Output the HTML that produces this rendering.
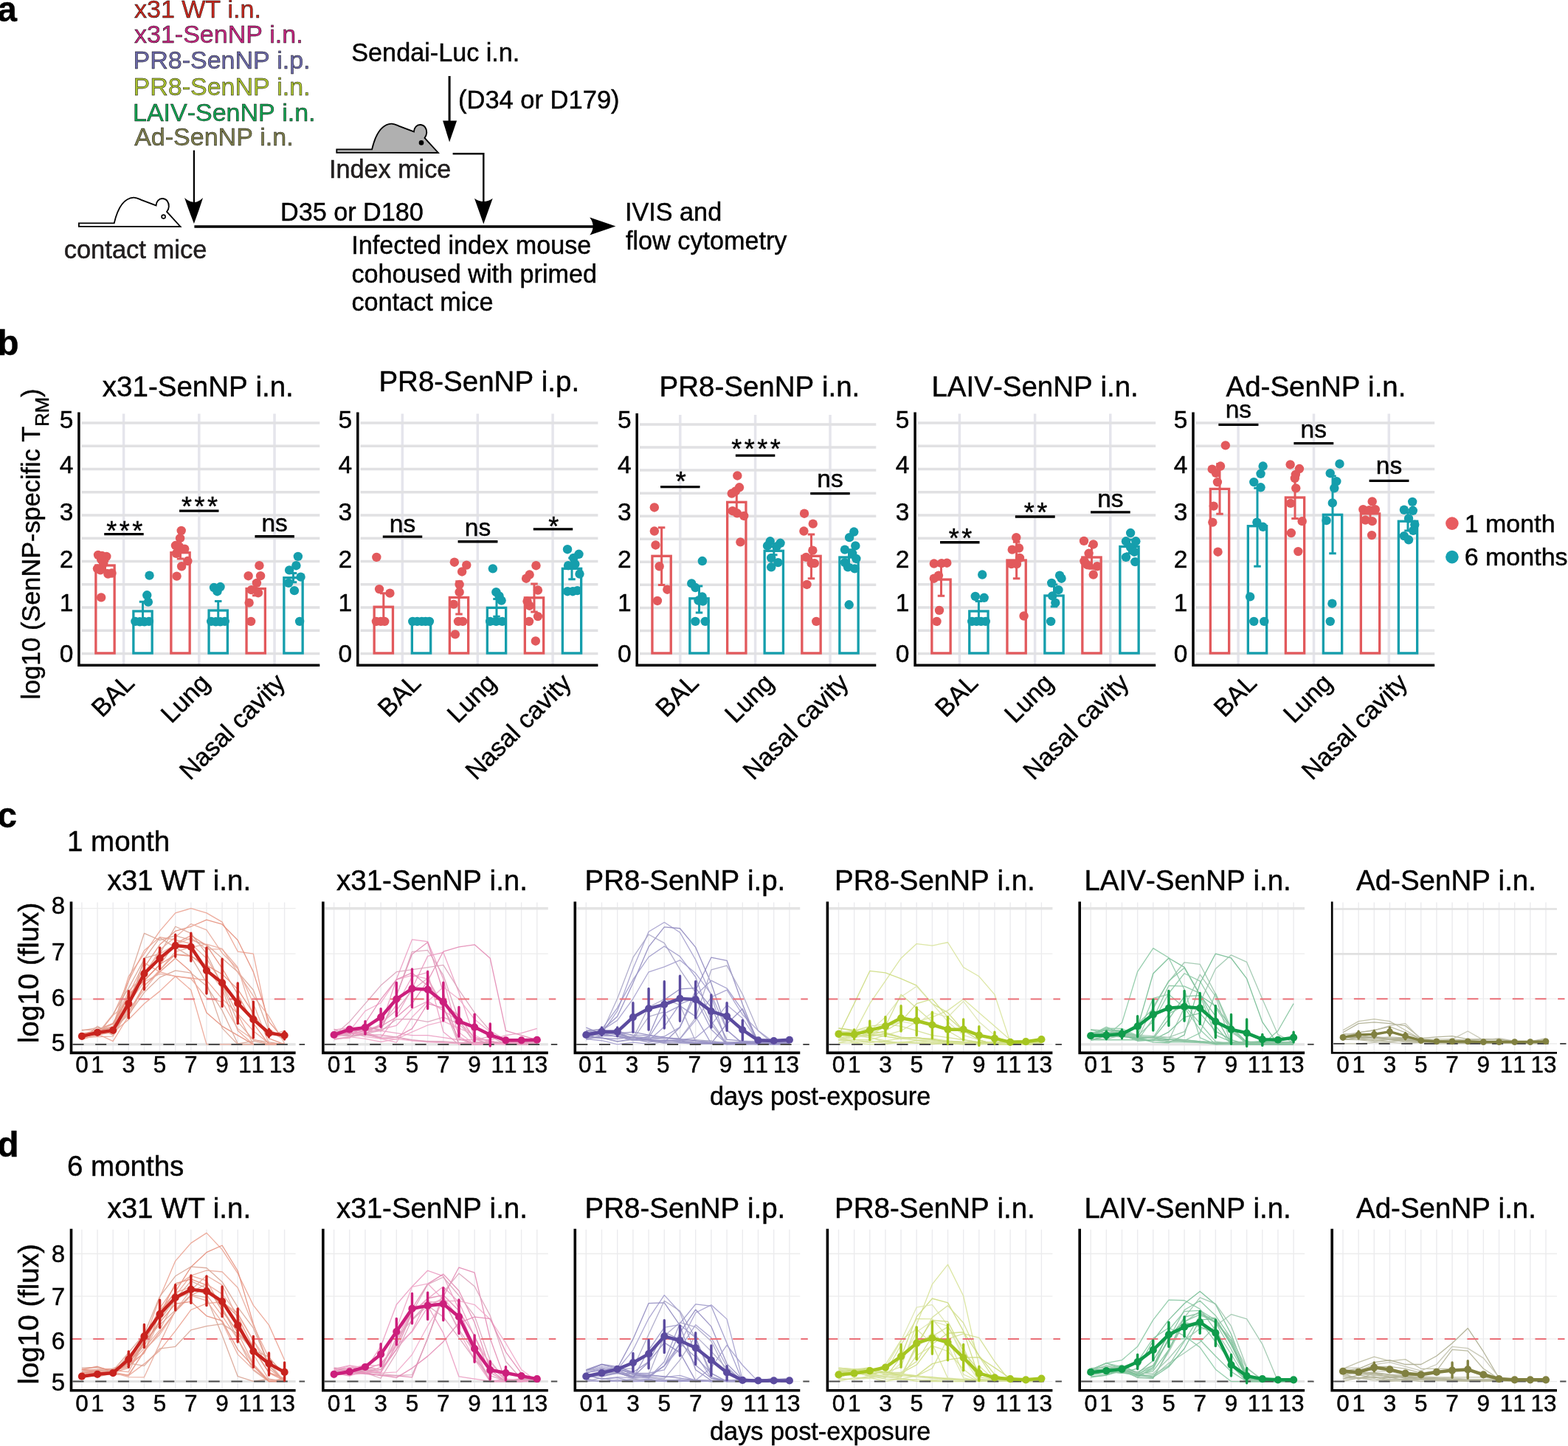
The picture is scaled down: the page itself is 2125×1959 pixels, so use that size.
<!DOCTYPE html>
<html lang="en"><head><meta charset="utf-8"><title>Figure: SenNP-specific TRM and Sendai-Luc transmission</title>
<style>html,body{margin:0;padding:0;background:#fff}body{width:2125px;height:1959px;overflow:hidden}svg{display:block}text{font-family:'Liberation Sans', sans-serif;font-kerning:none;stroke:#000;stroke-width:.45px}</style>
</head><body>
<svg width="2125" height="1959" viewBox="0 0 2125 1959">
<rect width="2125" height="1959" fill="#fff"/>
<g id="panel-a">
<text x="-3.5" y="29.4" font-size="47.5" font-weight="bold">a</text>
<text x="182" y="23.9" font-size="34" fill="#c8281e" stroke="#c8281e">x31 WT i.n.</text>
<text x="182" y="58.4" font-size="34" fill="#c4257f" stroke="#c4257f">x31-SenNP i.n.</text>
<text x="180.5" y="92.8" font-size="34" fill="#6b68a8" stroke="#6b68a8">PR8-SenNP i.p.</text>
<text x="180.5" y="128.7" font-size="34" fill="#a9c030" stroke="#a9c030">PR8-SenNP i.n.</text>
<text x="180" y="164" font-size="34" fill="#12a150" stroke="#12a150">LAIV-SenNP i.n.</text>
<text x="182.2" y="196.9" font-size="34" fill="#7b7b4b" stroke="#7b7b4b">Ad-SenNP i.n.</text>
<text x="476.3" y="82.9" font-size="34.2">Sendai-Luc i.n.</text>
<text x="621" y="147.2" font-size="34.5">(D34 or D179)</text>
<text x="446" y="241.2" font-size="34.2" fill="#231f20" stroke="#231f20">Index mice</text>
<text x="86.7" y="349.5" font-size="34.5" fill="#231f20" stroke="#231f20">contact mice</text>
<text x="380" y="298.5" font-size="34.2">D35 or D180</text>
<text x="847" y="299.2" font-size="34.2">IVIS and</text>
<text x="848" y="337.5" font-size="34.2">flow cytometry</text>
<text x="476.3" y="344.3" font-size="34.2">Infected index mouse</text>
<text x="476.5" y="382.6" font-size="34.2">cohoused with primed</text>
<text x="476.5" y="420.6" font-size="34.2">contact mice</text>
<g transform="translate(106.9 306.9)">
<path d="M0 0V-4.5H47.8C50.8 -17.5 57.5 -38.3 74.2 -39.3C78 -39.4 80.5 -38 84 -36.3L104.6 -28.5C104.9 -34.2 108.6 -37.9 113 -37.9C119 -37.9 122.2 -32.6 121.9 -26.9C121.7 -23.9 120.7 -21.9 119.2 -20L137.6 0.1Z" fill="#fff" stroke="#000" stroke-width="1.85" stroke-linejoin="miter"/>
<circle cx="114.7" cy="-13.3" r="2.5" fill="#fff" stroke="#000" stroke-width="1.6"/>
</g>
<g transform="translate(456.3 206.9)">
<path d="M0 0V-4.5H47.8C50.8 -17.5 57.5 -38.3 74.2 -39.3C78 -39.4 80.5 -38 84 -36.3L104.6 -28.5C104.9 -34.2 108.6 -37.9 113 -37.9C119 -37.9 122.2 -32.6 121.9 -26.9C121.7 -23.9 120.7 -21.9 119.2 -20L137.6 0.1Z" fill="#b0b0b0" stroke="#000" stroke-width="1.85" stroke-linejoin="miter"/>
<circle cx="114.7" cy="-13.5" r="3.3" fill="#000"/>
</g>
<path d="M262.9 203.6V280" stroke="#000" stroke-width="2.3" fill="none"/>
<path d="M262.9 302.9Q255.5 284 250.1 268Q262.9 280 275 268Q270 284 262.9 302.9Z" fill="#000"/>
<path d="M263.4 307.1H808" stroke="#000" stroke-width="3.5" fill="none"/>
<path d="M834.4 306.6L799.2 294.5Q808 306.6 799.2 318.6Z" fill="#000"/>
<path d="M609.1 103V166" stroke="#000" stroke-width="3.0" fill="none"/>
<path d="M609.1 192.4L600.1 163.5H619.1Z" fill="#000"/>
<path d="M613.6 208.2H655.3V280" stroke="#000" stroke-width="2.4" fill="none"/>
<path d="M655.3 303.6L643 268.7Q655.3 277.5 667.7 268.7Z" fill="#000"/>
</g>
<g id="panel-b">
<text x="-3.5" y="481.1" font-size="47.5" font-weight="bold">b</text>
<text font-size="34.3" transform="translate(54.4 947.5) rotate(-90)">log10 (SenNP-specific T<tspan font-size="25.5" dy="11.5">RM</tspan><tspan dy="-11.5">)</tspan></text>
<g>
<text x="268.3" y="536.6" font-size="38.5" text-anchor="middle">x31-SenNP i.n.</text>
<path d="M167.6 560.5V901.2M269.8 560.5V901.2M372 560.5V901.2" stroke="#e5e5ec" stroke-width="3.5" fill="none"/>
<path d="M110.4 885.5H433.3M110.4 854.24H433.3M110.4 822.98H433.3M110.4 791.72H433.3M110.4 760.46H433.3M110.4 729.2H433.3M110.4 697.94H433.3M110.4 666.68H433.3M110.4 635.42H433.3M110.4 604.16H433.3M110.4 572.9H433.3" stroke="#e1e1e3" stroke-width="3.5" fill="none"/>
<rect x="129.85" y="766" width="25.3" height="118.9" fill="none" stroke="#e2595c" stroke-width="3.3"/>
<rect x="180.85" y="828" width="25.3" height="56.9" fill="none" stroke="#159eac" stroke-width="3.3"/>
<rect x="231.85" y="748.7" width="25.3" height="136.2" fill="none" stroke="#e2595c" stroke-width="3.3"/>
<rect x="283.05" y="827" width="25.3" height="57.9" fill="none" stroke="#159eac" stroke-width="3.3"/>
<rect x="334.05" y="797.5" width="25.3" height="87.4" fill="none" stroke="#e2595c" stroke-width="3.3"/>
<rect x="384.85" y="782.7" width="25.3" height="102.2" fill="none" stroke="#159eac" stroke-width="3.3"/>
<path d="M142.5 760.05V772.39M137.75 760.05H147.25M137.75 772.39H147.25" stroke="#e2595c" stroke-width="3" fill="none"/>
<path d="M193.5 815.17V840.67M188.75 815.17H198.25M188.75 840.67H198.25" stroke="#159eac" stroke-width="3" fill="none"/>
<path d="M244.5 740.51V756.97M239.75 740.51H249.25M239.75 756.97H249.25" stroke="#e2595c" stroke-width="3" fill="none"/>
<path d="M295.7 814.55V839.23M290.95 814.55H300.45M290.95 839.23H300.45" stroke="#159eac" stroke-width="3" fill="none"/>
<path d="M346.7 788.23V806.74M341.95 788.23H351.45M341.95 806.74H351.45" stroke="#e2595c" stroke-width="3" fill="none"/>
<path d="M397.5 776.5V788.84M392.75 776.5H402.25M392.75 788.84H402.25" stroke="#159eac" stroke-width="3" fill="none"/>
<g fill="#e2595c">
<circle cx="133.01" cy="751.83" r="6.2"/>
<circle cx="138.15" cy="752.85" r="6.2"/>
<circle cx="144.32" cy="753.88" r="6.2"/>
<circle cx="137.12" cy="757.99" r="6.2"/>
<circle cx="140.21" cy="763.14" r="6.2"/>
<circle cx="131.98" cy="770.33" r="6.2"/>
<circle cx="136.09" cy="772.39" r="6.2"/>
<circle cx="146.38" cy="777.53" r="6.2"/>
<circle cx="151.52" cy="776.5" r="6.2"/>
<circle cx="137.12" cy="809.41" r="6.2"/>
</g>
<g fill="#159eac">
<circle cx="202.52" cy="779.59" r="6.2"/>
<circle cx="199.23" cy="806.32" r="6.2"/>
<circle cx="200.87" cy="815.58" r="6.2"/>
<circle cx="183.39" cy="841.9" r="6.2"/>
<circle cx="189.56" cy="842.31" r="6.2"/>
<circle cx="195.73" cy="842.31" r="6.2"/>
<circle cx="201.9" cy="841.9" r="6.2"/>
</g>
<g fill="#e2595c">
<circle cx="245.71" cy="718.92" r="6.2"/>
<circle cx="244.06" cy="729.2" r="6.2"/>
<circle cx="237.89" cy="739.07" r="6.2"/>
<circle cx="243.03" cy="740.51" r="6.2"/>
<circle cx="250.23" cy="743.6" r="6.2"/>
<circle cx="238.92" cy="749.77" r="6.2"/>
<circle cx="254.34" cy="760.05" r="6.2"/>
<circle cx="246.12" cy="767.25" r="6.2"/>
<circle cx="239.54" cy="780.62" r="6.2"/>
</g>
<g fill="#159eac">
<circle cx="289.92" cy="796.04" r="6.2"/>
<circle cx="298.56" cy="795.01" r="6.2"/>
<circle cx="294.45" cy="801.18" r="6.2"/>
<circle cx="286.22" cy="841.9" r="6.2"/>
<circle cx="292.39" cy="842.31" r="6.2"/>
<circle cx="298.56" cy="842.31" r="6.2"/>
<circle cx="304.73" cy="841.9" r="6.2"/>
</g>
<g fill="#e2595c">
<circle cx="351.41" cy="766.22" r="6.2"/>
<circle cx="336.61" cy="780.21" r="6.2"/>
<circle cx="353.06" cy="780.21" r="6.2"/>
<circle cx="347.92" cy="789.87" r="6.2"/>
<circle cx="340.72" cy="799.13" r="6.2"/>
<circle cx="349.97" cy="803.24" r="6.2"/>
<circle cx="337.63" cy="816.61" r="6.2"/>
<circle cx="340.1" cy="841.9" r="6.2"/>
</g>
<g fill="#159eac">
<circle cx="403.86" cy="753.88" r="6.2"/>
<circle cx="401.39" cy="766.22" r="6.2"/>
<circle cx="392.13" cy="772.39" r="6.2"/>
<circle cx="407.56" cy="781.65" r="6.2"/>
<circle cx="391.11" cy="789.87" r="6.2"/>
<circle cx="398.92" cy="800.15" r="6.2"/>
<circle cx="406.12" cy="841.9" r="6.2"/>
</g>
<path d="M106.9 558.5V901.2H433.3" stroke="#000" stroke-width="3.5" fill="none" stroke-linejoin="miter"/>
<text x="99.3" y="896.8" font-size="33.5" text-anchor="end">0</text>
<text x="99.3" y="828" font-size="33.5" text-anchor="end">1</text>
<text x="99.3" y="769.3" font-size="33.5" text-anchor="end">2</text>
<text x="99.3" y="704.5" font-size="33.5" text-anchor="end">3</text>
<text x="99.3" y="640.8" font-size="33.5" text-anchor="end">4</text>
<text x="99.3" y="580" font-size="33.5" text-anchor="end">5</text>
<text font-size="34.4" text-anchor="end" transform="translate(184.1 927.2) rotate(-45)">BAL</text>
<text font-size="34.4" text-anchor="end" transform="translate(286.3 927.2) rotate(-45)">Lung</text>
<text font-size="34.4" text-anchor="end" transform="translate(388.5 927.2) rotate(-45)">Nasal cavity</text>
<line x1="141.23" y1="723.65" x2="194.7" y2="723.65" stroke="#000" stroke-width="3.3"/>
<text x="170.57" y="731.85" font-size="36" text-anchor="middle" letter-spacing="3.5" stroke="#000" stroke-width="0.8">***</text>
<line x1="243.03" y1="692.19" x2="296.5" y2="692.19" stroke="#000" stroke-width="3.3"/>
<text x="272.37" y="698.89" font-size="36" text-anchor="middle" letter-spacing="3.5" stroke="#000" stroke-width="0.8">***</text>
<line x1="345.45" y1="726.74" x2="398.92" y2="726.74" stroke="#000" stroke-width="3.3"/>
<text x="372.19" y="719.94" font-size="33.5" text-anchor="middle">ns</text>
</g>
<g>
<text x="649.3" y="530" font-size="38.5" text-anchor="middle">PR8-SenNP i.p.</text>
<path d="M545.3 560.5V901.2M647.3 560.5V901.2M749.1 560.5V901.2" stroke="#e5e5ec" stroke-width="3.5" fill="none"/>
<path d="M488.3 885.5H810.4M488.3 854.24H810.4M488.3 822.98H810.4M488.3 791.72H810.4M488.3 760.46H810.4M488.3 729.2H810.4M488.3 697.94H810.4M488.3 666.68H810.4M488.3 635.42H810.4M488.3 604.16H810.4M488.3 572.9H810.4" stroke="#e1e1e3" stroke-width="3.5" fill="none"/>
<rect x="507.15" y="822.2" width="25.3" height="62.7" fill="none" stroke="#e2595c" stroke-width="3.3"/>
<rect x="558.35" y="841.7" width="25.3" height="43.2" fill="none" stroke="#159eac" stroke-width="3.3"/>
<rect x="609.35" y="809.4" width="25.3" height="75.5" fill="none" stroke="#e2595c" stroke-width="3.3"/>
<rect x="660.35" y="823.4" width="25.3" height="61.5" fill="none" stroke="#159eac" stroke-width="3.3"/>
<rect x="711.35" y="809.8" width="25.3" height="75.1" fill="none" stroke="#e2595c" stroke-width="3.3"/>
<rect x="762.35" y="770.3" width="25.3" height="114.6" fill="none" stroke="#159eac" stroke-width="3.3"/>
<path d="M519.8 803.65V840.67M515.05 803.65H524.55M515.05 840.67H524.55" stroke="#e2595c" stroke-width="3" fill="none"/>
<path d="M622 787.81V832.03M617.25 787.81H626.75M617.25 832.03H626.75" stroke="#e2595c" stroke-width="3" fill="none"/>
<path d="M673 811.47V835.32M668.25 811.47H677.75M668.25 835.32H677.75" stroke="#159eac" stroke-width="3" fill="none"/>
<path d="M724 790.9V828.95M719.25 790.9H728.75M719.25 828.95H728.75" stroke="#e2595c" stroke-width="3" fill="none"/>
<path d="M775 755.94V784.73M770.25 755.94H779.75M770.25 784.73H779.75" stroke="#159eac" stroke-width="3" fill="none"/>
<g fill="#e2595c">
<circle cx="510.33" cy="754.91" r="6.2"/>
<circle cx="514.04" cy="798.1" r="6.2"/>
<circle cx="528.43" cy="803.65" r="6.2"/>
<circle cx="509.92" cy="841.9" r="6.2"/>
<circle cx="516.09" cy="841.9" r="6.2"/>
<circle cx="521.23" cy="841.9" r="6.2"/>
</g>
<g fill="#159eac">
<circle cx="559.28" cy="841.9" r="6.2"/>
<circle cx="565.45" cy="841.9" r="6.2"/>
<circle cx="571.62" cy="841.9" r="6.2"/>
<circle cx="576.76" cy="841.9" r="6.2"/>
<circle cx="581.9" cy="841.9" r="6.2"/>
</g>
<g fill="#e2595c">
<circle cx="615.84" cy="761.7" r="6.2"/>
<circle cx="632.29" cy="765.6" r="6.2"/>
<circle cx="626.12" cy="774.45" r="6.2"/>
<circle cx="622.62" cy="791.93" r="6.2"/>
<circle cx="622.62" cy="802.21" r="6.2"/>
<circle cx="614.81" cy="818.66" r="6.2"/>
<circle cx="620.98" cy="841.9" r="6.2"/>
<circle cx="627.15" cy="841.9" r="6.2"/>
<circle cx="616.86" cy="859.38" r="6.2"/>
</g>
<g fill="#159eac">
<circle cx="667.87" cy="770.33" r="6.2"/>
<circle cx="672.39" cy="802.21" r="6.2"/>
<circle cx="676.5" cy="807.35" r="6.2"/>
<circle cx="679.59" cy="813.52" r="6.2"/>
<circle cx="664.16" cy="841.9" r="6.2"/>
<circle cx="672.39" cy="841.9" r="6.2"/>
<circle cx="680.62" cy="841.9" r="6.2"/>
</g>
<g fill="#e2595c">
<circle cx="726.48" cy="766.22" r="6.2"/>
<circle cx="717.63" cy="778.56" r="6.2"/>
<circle cx="713.11" cy="783.7" r="6.2"/>
<circle cx="728.95" cy="799.54" r="6.2"/>
<circle cx="714.55" cy="814.55" r="6.2"/>
<circle cx="717.63" cy="820.72" r="6.2"/>
<circle cx="728.95" cy="835.12" r="6.2"/>
<circle cx="717.02" cy="841.9" r="6.2"/>
<circle cx="725.86" cy="868.43" r="6.2"/>
</g>
<g fill="#159eac">
<circle cx="769.05" cy="744.22" r="6.2"/>
<circle cx="784.47" cy="750.8" r="6.2"/>
<circle cx="777.28" cy="755.94" r="6.2"/>
<circle cx="779.33" cy="764.16" r="6.2"/>
<circle cx="770.08" cy="766.22" r="6.2"/>
<circle cx="785.5" cy="777.53" r="6.2"/>
<circle cx="769.05" cy="801.18" r="6.2"/>
<circle cx="776.25" cy="801.18" r="6.2"/>
<circle cx="782.42" cy="800.15" r="6.2"/>
</g>
<path d="M484.8 558.5V901.2H810.4" stroke="#000" stroke-width="3.5" fill="none" stroke-linejoin="miter"/>
<text x="477.2" y="896.8" font-size="33.5" text-anchor="end">0</text>
<text x="477.2" y="828" font-size="33.5" text-anchor="end">1</text>
<text x="477.2" y="769.3" font-size="33.5" text-anchor="end">2</text>
<text x="477.2" y="704.5" font-size="33.5" text-anchor="end">3</text>
<text x="477.2" y="640.8" font-size="33.5" text-anchor="end">4</text>
<text x="477.2" y="580" font-size="33.5" text-anchor="end">5</text>
<text font-size="34.4" text-anchor="end" transform="translate(572.3 927.2) rotate(-45)">BAL</text>
<text font-size="34.4" text-anchor="end" transform="translate(674.3 927.2) rotate(-45)">Lung</text>
<text font-size="34.4" text-anchor="end" transform="translate(776.1 927.2) rotate(-45)">Nasal cavity</text>
<line x1="518.77" y1="727.15" x2="572.24" y2="727.15" stroke="#000" stroke-width="3.3"/>
<text x="545.5" y="720.95" font-size="33.5" text-anchor="middle">ns</text>
<line x1="620.57" y1="733.73" x2="674.45" y2="733.73" stroke="#000" stroke-width="3.3"/>
<text x="647.51" y="726.13" font-size="33.5" text-anchor="middle">ns</text>
<line x1="722.78" y1="716.86" x2="776.25" y2="716.86" stroke="#000" stroke-width="3.3"/>
<text x="752.11" y="725.66" font-size="36" text-anchor="middle" letter-spacing="3.5" stroke="#000" stroke-width="0.8">*</text>
</g>
<g>
<text x="1029.4" y="537" font-size="38.5" text-anchor="middle">PR8-SenNP i.n.</text>
<path d="M921.8 562V901.2M1023.6 562V901.2M1125 562V901.2" stroke="#e5e5ec" stroke-width="3.5" fill="none"/>
<path d="M866.7 885.5H1187.3M866.7 854.45H1187.3M866.7 823.4H1187.3M866.7 792.35H1187.3M866.7 761.3H1187.3M866.7 730.25H1187.3M866.7 699.2H1187.3M866.7 668.15H1187.3M866.7 637.1H1187.3M866.7 606.05H1187.3M866.7 575H1187.3" stroke="#e1e1e3" stroke-width="3.5" fill="none"/>
<rect x="883.95" y="753.3" width="25.3" height="131.6" fill="none" stroke="#e2595c" stroke-width="3.3"/>
<rect x="934.85" y="810.8" width="25.3" height="74.1" fill="none" stroke="#159eac" stroke-width="3.3"/>
<rect x="985.65" y="680.3" width="25.3" height="204.6" fill="none" stroke="#e2595c" stroke-width="3.3"/>
<rect x="1036.15" y="746.3" width="25.3" height="138.6" fill="none" stroke="#159eac" stroke-width="3.3"/>
<rect x="1086.85" y="753.3" width="25.3" height="131.6" fill="none" stroke="#e2595c" stroke-width="3.3"/>
<rect x="1137.85" y="755" width="25.3" height="129.9" fill="none" stroke="#159eac" stroke-width="3.3"/>
<path d="M896.6 714.81V792.54M891.85 714.81H901.35M891.85 792.54H901.35" stroke="#e2595c" stroke-width="3" fill="none"/>
<path d="M947.5 793.98V829.97M942.75 793.98H952.25M942.75 829.97H952.25" stroke="#159eac" stroke-width="3" fill="none"/>
<path d="M998.3 665.45V694.24M993.55 665.45H1003.05M993.55 694.24H1003.05" stroke="#e2595c" stroke-width="3" fill="none"/>
<path d="M1048.8 740.51V751.83M1044.05 740.51H1053.55M1044.05 751.83H1053.55" stroke="#159eac" stroke-width="3" fill="none"/>
<path d="M1099.5 724.06V783.7M1094.75 724.06H1104.25M1094.75 783.7H1104.25" stroke="#e2595c" stroke-width="3" fill="none"/>
<path d="M1150.5 744.63V765.19M1145.75 744.63H1155.25M1145.75 765.19H1155.25" stroke="#159eac" stroke-width="3" fill="none"/>
<g fill="#e2595c">
<circle cx="886.84" cy="687.46" r="6.2"/>
<circle cx="886.84" cy="719.54" r="6.2"/>
<circle cx="888.48" cy="738.46" r="6.2"/>
<circle cx="893.62" cy="767.25" r="6.2"/>
<circle cx="904.32" cy="798.71" r="6.2"/>
<circle cx="890.95" cy="813.93" r="6.2"/>
</g>
<g fill="#159eac">
<circle cx="951.83" cy="760.05" r="6.2"/>
<circle cx="937.22" cy="790.49" r="6.2"/>
<circle cx="942.37" cy="796.04" r="6.2"/>
<circle cx="951.62" cy="808.38" r="6.2"/>
<circle cx="946.48" cy="813.52" r="6.2"/>
<circle cx="952.65" cy="814.55" r="6.2"/>
<circle cx="942.37" cy="841.9" r="6.2"/>
<circle cx="955.73" cy="841.9" r="6.2"/>
</g>
<g fill="#e2595c">
<circle cx="999.33" cy="644.47" r="6.2"/>
<circle cx="1002.01" cy="660.31" r="6.2"/>
<circle cx="991.72" cy="668.53" r="6.2"/>
<circle cx="996.86" cy="665.45" r="6.2"/>
<circle cx="992.75" cy="692.19" r="6.2"/>
<circle cx="998.92" cy="695.27" r="6.2"/>
<circle cx="1008.17" cy="698.97" r="6.2"/>
<circle cx="1003.44" cy="734.34" r="6.2"/>
</g>
<g fill="#159eac">
<circle cx="1043.75" cy="733.32" r="6.2"/>
<circle cx="1057.53" cy="735.78" r="6.2"/>
<circle cx="1040.05" cy="739.49" r="6.2"/>
<circle cx="1052.39" cy="740.51" r="6.2"/>
<circle cx="1045.19" cy="755.94" r="6.2"/>
<circle cx="1054.45" cy="762.11" r="6.2"/>
<circle cx="1045.19" cy="768.28" r="6.2"/>
</g>
<g fill="#e2595c">
<circle cx="1090.03" cy="695.68" r="6.2"/>
<circle cx="1101.75" cy="709.67" r="6.2"/>
<circle cx="1089.41" cy="719.54" r="6.2"/>
<circle cx="1101.34" cy="745.66" r="6.2"/>
<circle cx="1092.49" cy="754.91" r="6.2"/>
<circle cx="1099.69" cy="763.14" r="6.2"/>
<circle cx="1103.8" cy="763.14" r="6.2"/>
<circle cx="1093.52" cy="791.93" r="6.2"/>
<circle cx="1106.27" cy="841.9" r="6.2"/>
</g>
<g fill="#159eac">
<circle cx="1157.28" cy="720.57" r="6.2"/>
<circle cx="1151.11" cy="728.17" r="6.2"/>
<circle cx="1159.33" cy="739.49" r="6.2"/>
<circle cx="1144.94" cy="744.63" r="6.2"/>
<circle cx="1155.22" cy="749.77" r="6.2"/>
<circle cx="1160.36" cy="756.97" r="6.2"/>
<circle cx="1144.94" cy="762.11" r="6.2"/>
<circle cx="1149.05" cy="768.28" r="6.2"/>
<circle cx="1158.3" cy="770.33" r="6.2"/>
<circle cx="1150.69" cy="819.28" r="6.2"/>
</g>
<path d="M863.2 560V901.2H1187.3" stroke="#000" stroke-width="3.5" fill="none" stroke-linejoin="miter"/>
<text x="855.6" y="896.8" font-size="33.5" text-anchor="end">0</text>
<text x="855.6" y="828" font-size="33.5" text-anchor="end">1</text>
<text x="855.6" y="769.3" font-size="33.5" text-anchor="end">2</text>
<text x="855.6" y="704.5" font-size="33.5" text-anchor="end">3</text>
<text x="855.6" y="640.8" font-size="33.5" text-anchor="end">4</text>
<text x="855.6" y="580" font-size="33.5" text-anchor="end">5</text>
<text font-size="34.4" text-anchor="end" transform="translate(948.8 927.2) rotate(-45)">BAL</text>
<text font-size="34.4" text-anchor="end" transform="translate(1050.6 927.2) rotate(-45)">Lung</text>
<text font-size="34.4" text-anchor="end" transform="translate(1152 927.2) rotate(-45)">Nasal cavity</text>
<line x1="895.06" y1="659.69" x2="948.53" y2="659.69" stroke="#000" stroke-width="3.3"/>
<text x="924.4" y="664.99" font-size="36" text-anchor="middle" letter-spacing="3.5" stroke="#000" stroke-width="0.8">*</text>
<line x1="996.86" y1="617.12" x2="1050.33" y2="617.12" stroke="#000" stroke-width="3.3"/>
<text x="1026.2" y="620.72" font-size="36" text-anchor="middle" letter-spacing="3.5" stroke="#000" stroke-width="0.8">****</text>
<line x1="1098.25" y1="668.53" x2="1151.72" y2="668.53" stroke="#000" stroke-width="3.3"/>
<text x="1124.99" y="660.33" font-size="33.5" text-anchor="middle">ns</text>
</g>
<g>
<text x="1402.6" y="537" font-size="38.5" text-anchor="middle">LAIV-SenNP i.n.</text>
<path d="M1300.4 560.5V901.2M1402.6 560.5V901.2M1504.8 560.5V901.2" stroke="#e5e5ec" stroke-width="3.5" fill="none"/>
<path d="M1243.6 885.5H1566.2M1243.6 854.24H1566.2M1243.6 822.98H1566.2M1243.6 791.72H1566.2M1243.6 760.46H1566.2M1243.6 729.2H1566.2M1243.6 697.94H1566.2M1243.6 666.68H1566.2M1243.6 635.42H1566.2M1243.6 604.16H1566.2M1243.6 572.9H1566.2" stroke="#e1e1e3" stroke-width="3.5" fill="none"/>
<rect x="1262.85" y="785.1" width="25.3" height="99.8" fill="none" stroke="#e2595c" stroke-width="3.3"/>
<rect x="1313.75" y="828" width="25.3" height="56.9" fill="none" stroke="#159eac" stroke-width="3.3"/>
<rect x="1364.95" y="759" width="25.3" height="125.9" fill="none" stroke="#e2595c" stroke-width="3.3"/>
<rect x="1415.85" y="807" width="25.3" height="77.9" fill="none" stroke="#159eac" stroke-width="3.3"/>
<rect x="1466.85" y="755" width="25.3" height="129.9" fill="none" stroke="#e2595c" stroke-width="3.3"/>
<rect x="1517.85" y="740.5" width="25.3" height="144.4" fill="none" stroke="#159eac" stroke-width="3.3"/>
<path d="M1275.5 766.22V807.35M1270.75 766.22H1280.25M1270.75 807.35H1280.25" stroke="#e2595c" stroke-width="3" fill="none"/>
<path d="M1326.4 814.55V841.29M1321.65 814.55H1331.15M1321.65 841.29H1331.15" stroke="#159eac" stroke-width="3" fill="none"/>
<path d="M1377.6 734.34V783.7M1372.85 734.34H1382.35M1372.85 783.7H1382.35" stroke="#e2595c" stroke-width="3" fill="none"/>
<path d="M1428.5 791.93V821.75M1423.75 791.93H1433.25M1423.75 821.75H1433.25" stroke="#159eac" stroke-width="3" fill="none"/>
<path d="M1479.5 739.49V770.33M1474.75 739.49H1484.25M1474.75 770.33H1484.25" stroke="#e2595c" stroke-width="3" fill="none"/>
<path d="M1530.5 731.26V749.77M1525.75 731.26H1535.25M1525.75 749.77H1535.25" stroke="#159eac" stroke-width="3" fill="none"/>
<g fill="#e2595c">
<circle cx="1265.81" cy="763.55" r="6.2"/>
<circle cx="1276.09" cy="763.14" r="6.2"/>
<circle cx="1283.29" cy="762.72" r="6.2"/>
<circle cx="1271.98" cy="779.59" r="6.2"/>
<circle cx="1265.81" cy="783.7" r="6.2"/>
<circle cx="1273.01" cy="826.89" r="6.2"/>
<circle cx="1269.51" cy="841.9" r="6.2"/>
</g>
<g fill="#159eac">
<circle cx="1331.21" cy="778.56" r="6.2"/>
<circle cx="1321.75" cy="807.97" r="6.2"/>
<circle cx="1333.68" cy="809.82" r="6.2"/>
<circle cx="1317.22" cy="841.9" r="6.2"/>
<circle cx="1323.39" cy="841.9" r="6.2"/>
<circle cx="1329.56" cy="841.9" r="6.2"/>
<circle cx="1335.73" cy="841.9" r="6.2"/>
</g>
<g fill="#e2595c">
<circle cx="1377.28" cy="728.17" r="6.2"/>
<circle cx="1371.72" cy="744.63" r="6.2"/>
<circle cx="1380.98" cy="742.57" r="6.2"/>
<circle cx="1382.01" cy="755.94" r="6.2"/>
<circle cx="1370.69" cy="764.16" r="6.2"/>
<circle cx="1377.89" cy="764.16" r="6.2"/>
<circle cx="1387.56" cy="834.5" r="6.2"/>
</g>
<g fill="#159eac">
<circle cx="1436.09" cy="779.59" r="6.2"/>
<circle cx="1438.56" cy="783.7" r="6.2"/>
<circle cx="1425.19" cy="789.87" r="6.2"/>
<circle cx="1434.45" cy="799.13" r="6.2"/>
<circle cx="1426.22" cy="807.35" r="6.2"/>
<circle cx="1430.33" cy="816.61" r="6.2"/>
<circle cx="1424.16" cy="841.9" r="6.2"/>
</g>
<g fill="#e2595c">
<circle cx="1469" cy="732.9" r="6.2"/>
<circle cx="1481.75" cy="737.43" r="6.2"/>
<circle cx="1475.58" cy="749.77" r="6.2"/>
<circle cx="1469.41" cy="760.05" r="6.2"/>
<circle cx="1473.52" cy="765.19" r="6.2"/>
<circle cx="1486.89" cy="767.25" r="6.2"/>
<circle cx="1481.75" cy="778.56" r="6.2"/>
</g>
<g fill="#159eac">
<circle cx="1532.13" cy="722.01" r="6.2"/>
<circle cx="1525.96" cy="733.32" r="6.2"/>
<circle cx="1539.33" cy="733.32" r="6.2"/>
<circle cx="1532.13" cy="741.54" r="6.2"/>
<circle cx="1537.28" cy="747.71" r="6.2"/>
<circle cx="1525.96" cy="754.91" r="6.2"/>
<circle cx="1538.3" cy="761.08" r="6.2"/>
</g>
<path d="M1240.1 558.5V901.2H1566.2" stroke="#000" stroke-width="3.5" fill="none" stroke-linejoin="miter"/>
<text x="1232.5" y="896.8" font-size="33.5" text-anchor="end">0</text>
<text x="1232.5" y="828" font-size="33.5" text-anchor="end">1</text>
<text x="1232.5" y="769.3" font-size="33.5" text-anchor="end">2</text>
<text x="1232.5" y="704.5" font-size="33.5" text-anchor="end">3</text>
<text x="1232.5" y="640.8" font-size="33.5" text-anchor="end">4</text>
<text x="1232.5" y="580" font-size="33.5" text-anchor="end">5</text>
<text font-size="34.4" text-anchor="end" transform="translate(1327.4 927.2) rotate(-45)">BAL</text>
<text font-size="34.4" text-anchor="end" transform="translate(1429.6 927.2) rotate(-45)">Lung</text>
<text font-size="34.4" text-anchor="end" transform="translate(1531.8 927.2) rotate(-45)">Nasal cavity</text>
<line x1="1274.04" y1="734.76" x2="1327.51" y2="734.76" stroke="#000" stroke-width="3.3"/>
<text x="1303.37" y="742.06" font-size="36" text-anchor="middle" letter-spacing="3.5" stroke="#000" stroke-width="0.8">**</text>
<line x1="1375.84" y1="700" x2="1429.72" y2="700" stroke="#000" stroke-width="3.3"/>
<text x="1405.38" y="707.1" font-size="36" text-anchor="middle" letter-spacing="3.5" stroke="#000" stroke-width="0.8">**</text>
<line x1="1478.05" y1="693.83" x2="1531.72" y2="693.83" stroke="#000" stroke-width="3.3"/>
<text x="1504.88" y="687.03" font-size="33.5" text-anchor="middle">ns</text>
</g>
<g>
<text x="1783.5" y="537" font-size="38.5" text-anchor="middle">Ad-SenNP i.n.</text>
<path d="M1678.1 560.5V901.2M1780.5 560.5V901.2M1882.3 560.5V901.2" stroke="#e5e5ec" stroke-width="3.5" fill="none"/>
<path d="M1620.5 885.5H1944.2M1620.5 854.24H1944.2M1620.5 822.98H1944.2M1620.5 791.72H1944.2M1620.5 760.46H1944.2M1620.5 729.2H1944.2M1620.5 697.94H1944.2M1620.5 666.68H1944.2M1620.5 635.42H1944.2M1620.5 604.16H1944.2M1620.5 572.9H1944.2" stroke="#e1e1e3" stroke-width="3.5" fill="none"/>
<rect x="1640.35" y="662.4" width="25.3" height="222.5" fill="none" stroke="#e2595c" stroke-width="3.3"/>
<rect x="1691.35" y="712.7" width="25.3" height="172.2" fill="none" stroke="#159eac" stroke-width="3.3"/>
<rect x="1742.35" y="674" width="25.3" height="210.9" fill="none" stroke="#e2595c" stroke-width="3.3"/>
<rect x="1793.35" y="697.3" width="25.3" height="187.6" fill="none" stroke="#159eac" stroke-width="3.3"/>
<rect x="1844.35" y="695.9" width="25.3" height="189" fill="none" stroke="#e2595c" stroke-width="3.3"/>
<rect x="1895.35" y="706.2" width="25.3" height="178.7" fill="none" stroke="#159eac" stroke-width="3.3"/>
<path d="M1653 628.43V696.3M1648.25 628.43H1657.75M1648.25 696.3H1657.75" stroke="#e2595c" stroke-width="3" fill="none"/>
<path d="M1704 661.34V767.25M1699.25 661.34H1708.75M1699.25 767.25H1708.75" stroke="#159eac" stroke-width="3" fill="none"/>
<path d="M1755 644.88V702.47M1750.25 644.88H1759.75M1750.25 702.47H1759.75" stroke="#e2595c" stroke-width="3" fill="none"/>
<path d="M1806 644.88V749.77M1801.25 644.88H1810.75M1801.25 749.77H1810.75" stroke="#159eac" stroke-width="3" fill="none"/>
<path d="M1857 689.1V702.47M1852.25 689.1H1861.75M1852.25 702.47H1861.75" stroke="#e2595c" stroke-width="3" fill="none"/>
<path d="M1908 694.24V718.92M1903.25 694.24H1912.75M1903.25 718.92H1912.75" stroke="#159eac" stroke-width="3" fill="none"/>
<g fill="#e2595c">
<circle cx="1660.82" cy="603.34" r="6.2"/>
<circle cx="1654.04" cy="631.52" r="6.2"/>
<circle cx="1642.72" cy="635.63" r="6.2"/>
<circle cx="1647.87" cy="640.77" r="6.2"/>
<circle cx="1649.92" cy="653.11" r="6.2"/>
<circle cx="1644.78" cy="685.6" r="6.2"/>
<circle cx="1643.34" cy="707.61" r="6.2"/>
<circle cx="1650.54" cy="747.71" r="6.2"/>
</g>
<g fill="#159eac">
<circle cx="1711.62" cy="631.52" r="6.2"/>
<circle cx="1708.53" cy="641.8" r="6.2"/>
<circle cx="1699.28" cy="653.11" r="6.2"/>
<circle cx="1708.53" cy="660.31" r="6.2"/>
<circle cx="1703.39" cy="707.61" r="6.2"/>
<circle cx="1711.62" cy="713.78" r="6.2"/>
<circle cx="1694.14" cy="808.38" r="6.2"/>
<circle cx="1699.28" cy="841.9" r="6.2"/>
<circle cx="1713.26" cy="841.9" r="6.2"/>
</g>
<g fill="#e2595c">
<circle cx="1748.64" cy="629.46" r="6.2"/>
<circle cx="1760.98" cy="635.01" r="6.2"/>
<circle cx="1755.84" cy="642.83" r="6.2"/>
<circle cx="1754.81" cy="647.97" r="6.2"/>
<circle cx="1756.25" cy="661.34" r="6.2"/>
<circle cx="1749.05" cy="681.9" r="6.2"/>
<circle cx="1764.68" cy="706.17" r="6.2"/>
<circle cx="1749.87" cy="722.01" r="6.2"/>
<circle cx="1759.33" cy="747.1" r="6.2"/>
</g>
<g fill="#159eac">
<circle cx="1815.48" cy="628.43" r="6.2"/>
<circle cx="1802.72" cy="641.18" r="6.2"/>
<circle cx="1811.36" cy="652.08" r="6.2"/>
<circle cx="1808.28" cy="661.34" r="6.2"/>
<circle cx="1805.81" cy="681.49" r="6.2"/>
<circle cx="1797.58" cy="705.14" r="6.2"/>
<circle cx="1805.4" cy="817.63" r="6.2"/>
<circle cx="1802.72" cy="841.9" r="6.2"/>
</g>
<g fill="#e2595c">
<circle cx="1859.69" cy="679.43" r="6.2"/>
<circle cx="1847.35" cy="690.13" r="6.2"/>
<circle cx="1855.58" cy="691.16" r="6.2"/>
<circle cx="1863.8" cy="690.13" r="6.2"/>
<circle cx="1850.44" cy="704.52" r="6.2"/>
<circle cx="1859.69" cy="706.17" r="6.2"/>
<circle cx="1859.07" cy="725.09" r="6.2"/>
</g>
<g fill="#159eac">
<circle cx="1914.19" cy="679.85" r="6.2"/>
<circle cx="1902.88" cy="690.75" r="6.2"/>
<circle cx="1914.81" cy="691.77" r="6.2"/>
<circle cx="1909.05" cy="702.47" r="6.2"/>
<circle cx="1917.28" cy="710.69" r="6.2"/>
<circle cx="1915.22" cy="718.92" r="6.2"/>
<circle cx="1902.88" cy="726.12" r="6.2"/>
<circle cx="1909.05" cy="731.26" r="6.2"/>
</g>
<path d="M1617 558.5V901.2H1944.2" stroke="#000" stroke-width="3.5" fill="none" stroke-linejoin="miter"/>
<text x="1609.4" y="896.8" font-size="33.5" text-anchor="end">0</text>
<text x="1609.4" y="828" font-size="33.5" text-anchor="end">1</text>
<text x="1609.4" y="769.3" font-size="33.5" text-anchor="end">2</text>
<text x="1609.4" y="704.5" font-size="33.5" text-anchor="end">3</text>
<text x="1609.4" y="640.8" font-size="33.5" text-anchor="end">4</text>
<text x="1609.4" y="580" font-size="33.5" text-anchor="end">5</text>
<text font-size="34.4" text-anchor="end" transform="translate(1705.1 927.2) rotate(-45)">BAL</text>
<text font-size="34.4" text-anchor="end" transform="translate(1807.5 927.2) rotate(-45)">Lung</text>
<text font-size="34.4" text-anchor="end" transform="translate(1909.3 927.2) rotate(-45)">Nasal cavity</text>
<line x1="1651.36" y1="575.37" x2="1705.45" y2="575.37" stroke="#000" stroke-width="3.3"/>
<text x="1678.41" y="565.67" font-size="33.5" text-anchor="middle">ns</text>
<line x1="1753.37" y1="600.67" x2="1807.25" y2="600.67" stroke="#000" stroke-width="3.3"/>
<text x="1780.31" y="593.07" font-size="33.5" text-anchor="middle">ns</text>
<line x1="1855.58" y1="651.47" x2="1909.46" y2="651.47" stroke="#000" stroke-width="3.3"/>
<text x="1882.52" y="642.47" font-size="33.5" text-anchor="middle">ns</text>
</g>
<circle cx="1967.9" cy="709.1" r="8.8" fill="#e85c60"/>
<text x="1984.7" y="720.8" font-size="34">1 month</text>
<circle cx="1967.9" cy="754.6" r="8.8" fill="#15a1b1"/>
<text x="1984.7" y="766.3" font-size="34">6 months</text>
</g>
<g id="panel-c">
<text x="-3.5" y="1120.9" font-size="47.5" font-weight="bold">c</text>
<text x="91" y="1152.9" font-size="38.5">1 month</text>
<text font-size="38.5" text-anchor="middle" transform="translate(51.5 1318) rotate(-90)">log10 (flux)</text>
<text x="1111.7" y="1496.6" font-size="34.3" text-anchor="middle">days post-exposure</text>
<g>
<text x="242.8" y="1206.4" font-size="38.5" text-anchor="middle">x31 WT i.n.</text>
<path d="M110.9 1222.6V1426.4M132.03 1222.6V1426.4M153.16 1222.6V1426.4M174.29 1222.6V1426.4M195.42 1222.6V1426.4M216.55 1222.6V1426.4M237.68 1222.6V1426.4M258.82 1222.6V1426.4M279.95 1222.6V1426.4M301.08 1222.6V1426.4M322.21 1222.6V1426.4M343.34 1222.6V1426.4M364.47 1222.6V1426.4M385.6 1222.6V1426.4" stroke="#ebebee" stroke-width="1.4" fill="none"/>
<line x1="98.5" y1="1414.9" x2="400.6" y2="1414.9" stroke="#e3e3e3" stroke-width="3.2"/>
<line x1="98.5" y1="1353.5" x2="400.6" y2="1353.5" stroke="#ececec" stroke-width="1.2"/>
<line x1="98.5" y1="1292.1" x2="400.6" y2="1292.1" stroke="#ececec" stroke-width="1.2"/>
<line x1="98.5" y1="1230.7" x2="400.6" y2="1230.7" stroke="#ececec" stroke-width="1.2"/>
<g fill="none" stroke-width="1.3" stroke-linejoin="round" stroke-opacity="0.9">
<polyline points="110.9,1402.62 132.03,1396.48 153.16,1390.34 174.29,1322.8 195.42,1292.1 216.55,1261.4 237.68,1236.84 258.82,1230.7 279.95,1236.84 301.08,1249.12 322.21,1289.03 343.34,1292.1 364.47,1393.41 385.6,1408.76" stroke="#eba392"/>
<polyline points="110.9,1405.69 132.03,1399.55 153.16,1396.48 174.29,1353.5 195.42,1310.52 216.55,1279.82 237.68,1261.4 258.82,1255.26 279.95,1246.05 301.08,1252.19 322.21,1273.68 343.34,1316.66 364.47,1384.2 385.6,1408.76" stroke="#e58f7c"/>
<polyline points="110.9,1402.62 132.03,1396.48 153.16,1393.41 174.29,1328.94 195.42,1264.47 216.55,1273.68 237.68,1267.54 258.82,1273.68 279.95,1279.82 301.08,1298.24 322.21,1316.66 343.34,1341.22 364.47,1396.48 385.6,1408.76" stroke="#d9a596"/>
<polyline points="110.9,1402.62 132.03,1402.62 153.16,1396.48 174.29,1359.64 195.42,1316.66 216.55,1292.1 237.68,1279.82 258.82,1270.61 279.95,1285.96 301.08,1285.96 322.21,1310.52 343.34,1378.06 364.47,1402.62 385.6,1396.48" stroke="#e9ab9c"/>
<polyline points="110.9,1402.62 132.03,1396.48 153.16,1396.48 174.29,1347.36 195.42,1304.38 216.55,1316.66 237.68,1322.8 258.82,1341.22 279.95,1414.9 301.08,1414.9 322.21,1414.9 343.34,1414.9 364.47,1414.9 385.6,1414.9" stroke="#eba392"/>
<polyline points="110.9,1402.62 132.03,1399.55 153.16,1396.48 174.29,1371.92 195.42,1335.08 216.55,1316.66 237.68,1298.24 258.82,1316.66 279.95,1371.92 301.08,1390.34 322.21,1402.62 343.34,1414.9 364.47,1414.9 385.6,1414.9" stroke="#e58f7c"/>
<polyline points="110.9,1408.76 132.03,1390.34 153.16,1402.62 174.29,1365.78 195.42,1298.24 216.55,1292.1 237.68,1255.26 258.82,1264.47 279.95,1292.1 301.08,1335.08 322.21,1384.2 343.34,1408.76 364.47,1411.83 385.6,1414.9" stroke="#d9a596"/>
<polyline points="110.9,1401.56 132.03,1396.95 153.16,1387.39 174.29,1342.76 195.42,1320.92 216.55,1286.83 237.68,1269.51 258.82,1251.65 279.95,1259.8 301.08,1291.17 322.21,1312.29 343.34,1359.59 364.47,1414.06 385.6,1414.9" stroke="#e9ab9c"/>
<polyline points="110.9,1408.32 132.03,1401.81 153.16,1375.41 174.29,1328.9 195.42,1287.81 216.55,1269.63 237.68,1273.26 258.82,1278.47 279.95,1298.39 301.08,1333.11 322.21,1373.97 343.34,1414.69 364.47,1414.9 385.6,1414.9" stroke="#eba392"/>
<polyline points="110.9,1395.36 132.03,1395.13 153.16,1386.38 174.29,1349.41 195.42,1327.7 216.55,1307.22 237.68,1278.21 258.82,1267.46 279.95,1280.74 301.08,1311.83 322.21,1347.01 343.34,1386.37 364.47,1414.9 385.6,1414.9" stroke="#e58f7c"/>
<polyline points="110.9,1401.28 132.03,1400.81 153.16,1374.17 174.29,1338.63 195.42,1299.47 216.55,1270.39 237.68,1283.6 258.82,1296.2 279.95,1331.36 301.08,1392.91 322.21,1414.9 343.34,1414.83 364.47,1414.9 385.6,1414.9" stroke="#d9a596"/>
<polyline points="110.9,1405.73 132.03,1404.68 153.16,1404.07 174.29,1367.78 195.42,1341.05 216.55,1314.53 237.68,1289.27 258.82,1283.36 279.95,1279.17 301.08,1285.31 322.21,1317.4 343.34,1349.47 364.47,1376.81 385.6,1413.76" stroke="#e9ab9c"/>
<polyline points="110.9,1405.45 132.03,1400.74 153.16,1410.71 174.29,1376.27 195.42,1335.87 216.55,1314.21 237.68,1292.78 258.82,1294.6 279.95,1312.45 301.08,1339.15 322.21,1396.26 343.34,1414.9 364.47,1414.9 385.6,1414.9" stroke="#eba392"/>
<polyline points="110.9,1400.36 132.03,1396.13 153.16,1391.99 174.29,1346.67 195.42,1329.06 216.55,1306.5 237.68,1293.44 258.82,1295.36 279.95,1307.89 301.08,1319.76 322.21,1340.14 343.34,1372.55 364.47,1406.77 385.6,1414.9" stroke="#e58f7c"/>
<polyline points="110.9,1396.06 132.03,1392.3 153.16,1393.7 174.29,1374.95 195.42,1344.51 216.55,1324.11 237.68,1314.88 258.82,1318.13 279.95,1335.81 301.08,1368.89 322.21,1413.97 343.34,1410.6 364.47,1414.9 385.6,1414.9" stroke="#d9a596"/>
<polyline points="110.9,1402.64 132.03,1401.64 153.16,1375.17 174.29,1359.26 195.42,1330.03 216.55,1319.45 237.68,1322.4 258.82,1325.77 279.95,1351.85 301.08,1357.35 322.21,1393.76 343.34,1408.31 364.47,1414.38 385.6,1414.9" stroke="#e9ab9c"/>
<polyline points="110.9,1402.24 132.03,1401.97 153.16,1398.84 174.29,1381.32 195.42,1359.71 216.55,1342.88 237.68,1322.73 258.82,1325 279.95,1328.07 301.08,1353.11 322.21,1373.09 343.34,1396.65 364.47,1413.58 385.6,1413.77" stroke="#eba392"/>
</g>
<line x1="95.5" y1="1353.5" x2="411.1" y2="1353.5" stroke="#ea7078" stroke-width="2" stroke-dasharray="15 15.7" stroke-dashoffset="0"/>
<line x1="98.5" y1="1414.9" x2="413.1" y2="1414.9" stroke="#4d4d4d" stroke-width="2" stroke-dasharray="15 15.7" stroke-dashoffset="0"/>
<path d="M174.29 1342.73V1379.14M195.42 1299.25V1340.59M216.55 1283.83V1312.75M237.68 1266.27V1296.25M258.82 1264.13V1302.04M279.95 1283.83V1345.94M301.08 1299.25V1363.5M322.21 1332.02V1386.63M343.34 1357.08V1405.91M364.47 1394.13V1404.83M385.6 1397.34V1408.05" stroke="#c8231e" stroke-width="3.4" fill="none" stroke-linecap="round"/>
<polyline points="110.9,1403.85 132.03,1398.94 153.16,1395.87 174.29,1359.64 195.42,1319.12 216.55,1298.24 237.68,1281.05 258.82,1282.89 279.95,1314.82 301.08,1331.4 322.21,1359.03 343.34,1381.13 364.47,1399.55 385.6,1402.62" fill="none" stroke="#c8231e" stroke-width="4.5" stroke-linejoin="round" stroke-linecap="round"/>
<g fill="#c8231e">
<circle cx="110.9" cy="1403.85" r="5.1"/>
<circle cx="132.03" cy="1398.94" r="5.1"/>
<circle cx="153.16" cy="1395.87" r="5.1"/>
<circle cx="174.29" cy="1359.64" r="5.1"/>
<circle cx="195.42" cy="1319.12" r="5.1"/>
<circle cx="216.55" cy="1298.24" r="5.1"/>
<circle cx="237.68" cy="1281.05" r="5.1"/>
<circle cx="258.82" cy="1282.89" r="5.1"/>
<circle cx="279.95" cy="1314.82" r="5.1"/>
<circle cx="301.08" cy="1331.4" r="5.1"/>
<circle cx="322.21" cy="1359.03" r="5.1"/>
<circle cx="343.34" cy="1381.13" r="5.1"/>
<circle cx="364.47" cy="1399.55" r="5.1"/>
<circle cx="385.6" cy="1402.62" r="5.1"/>
</g>
<path d="M96.5 1221.6V1426.4H400.6" stroke="#000" stroke-width="3.6" fill="none"/>
<text x="110.9" y="1453.4" font-size="31.5" text-anchor="middle">0</text>
<text x="132.03" y="1453.4" font-size="31.5" text-anchor="middle">1</text>
<text x="174.29" y="1453.4" font-size="31.5" text-anchor="middle">3</text>
<text x="216.55" y="1453.4" font-size="31.5" text-anchor="middle">5</text>
<text x="258.82" y="1453.4" font-size="31.5" text-anchor="middle">7</text>
<text x="301.08" y="1453.4" font-size="31.5" text-anchor="middle">9</text>
<text x="340.84" y="1453.4" font-size="31.5" text-anchor="middle">11</text>
<text x="382.6" y="1453.4" font-size="31.5" text-anchor="middle">13</text>
<text x="88" y="1423.6" font-size="33" text-anchor="end">5</text>
<text x="88" y="1363" font-size="33" text-anchor="end">6</text>
<text x="88" y="1301" font-size="33" text-anchor="end">7</text>
<text x="88" y="1237.6" font-size="33" text-anchor="end">8</text>
</g>
<g>
<text x="585.5" y="1206.4" font-size="38.5" text-anchor="middle">x31-SenNP i.n.</text>
<path d="M452.6 1222.6V1426.4M473.77 1222.6V1426.4M494.94 1222.6V1426.4M516.11 1222.6V1426.4M537.28 1222.6V1426.4M558.45 1222.6V1426.4M579.62 1222.6V1426.4M600.78 1222.6V1426.4M621.95 1222.6V1426.4M643.12 1222.6V1426.4M664.29 1222.6V1426.4M685.46 1222.6V1426.4M706.63 1222.6V1426.4M727.8 1222.6V1426.4" stroke="#ebebee" stroke-width="1.4" fill="none"/>
<line x1="439.8" y1="1414.9" x2="742.8" y2="1414.9" stroke="#e3e3e3" stroke-width="3.2"/>
<line x1="439.8" y1="1353.5" x2="742.8" y2="1353.5" stroke="#ececec" stroke-width="1.2"/>
<line x1="439.8" y1="1292.1" x2="742.8" y2="1292.1" stroke="#ececec" stroke-width="1.4"/>
<line x1="439.8" y1="1230.7" x2="742.8" y2="1230.7" stroke="#e3e3e3" stroke-width="3.4"/>
<g fill="none" stroke-width="1.3" stroke-linejoin="round" stroke-opacity="0.9">
<polyline points="452.6,1402.46 473.77,1400.76 494.94,1396.98 516.11,1390.36 537.28,1326.43 558.45,1272.87 579.62,1275.68 600.78,1326.28 621.95,1404.61 643.12,1414.9 664.29,1414.21 685.46,1414.9 706.63,1414.9 727.8,1414.9" stroke="#eb9cc2"/>
<polyline points="452.6,1397.21 473.77,1396.34 494.94,1392.25 516.11,1394.68 537.28,1348.98 558.45,1292.76 579.62,1276.47 600.78,1344.2 621.95,1414.9 643.12,1413.67 664.29,1412.03 685.46,1413.2 706.63,1414.9 727.8,1410.19" stroke="#e389b4"/>
<polyline points="452.6,1402.45 473.77,1403.52 494.94,1400.5 516.11,1396.18 537.28,1349.19 558.45,1289.33 579.62,1287.28 600.78,1321.19 621.95,1381.98 643.12,1413.5 664.29,1414.9 685.46,1413.88 706.63,1414.9 727.8,1414.9" stroke="#dba3bb"/>
<polyline points="452.6,1400.79 473.77,1396.82 494.94,1369.63 516.11,1358.73 537.28,1327.06 558.45,1321.41 579.62,1326.24 600.78,1367.08 621.95,1398.6 643.12,1414.9 664.29,1410.31 685.46,1414.9 706.63,1414.34 727.8,1412.33" stroke="#efa9c9"/>
<polyline points="452.6,1403.06 473.77,1392.03 494.94,1398.38 516.11,1405.8 537.28,1376.49 558.45,1339.32 579.62,1295.36 600.78,1290.27 621.95,1344.66 643.12,1405.13 664.29,1410.77 685.46,1414.1 706.63,1413.97 727.8,1411.62" stroke="#eb9cc2"/>
<polyline points="452.6,1407.13 473.77,1406.19 494.94,1386.03 516.11,1353.81 537.28,1327.17 558.45,1317.9 579.62,1335.57 600.78,1360.05 621.95,1376.11 643.12,1407.43 664.29,1414.52 685.46,1412.57 706.63,1410.11 727.8,1414.9" stroke="#e389b4"/>
<polyline points="452.6,1408.65 473.77,1404.84 494.94,1401.29 516.11,1386.67 537.28,1368.48 558.45,1341.6 579.62,1325.35 600.78,1363.3 621.95,1414.9 643.12,1414.83 664.29,1414.9 685.46,1413.63 706.63,1414.9 727.8,1414.9" stroke="#dba3bb"/>
<polyline points="452.6,1403 473.77,1397.79 494.94,1404.6 516.11,1407.18 537.28,1412.48 558.45,1378.01 579.62,1356.83 600.78,1337.34 621.95,1353.47 643.12,1380.91 664.29,1398.12 685.46,1414.59 706.63,1411.9 727.8,1414.86" stroke="#efa9c9"/>
<polyline points="452.6,1400.03 473.77,1391.78 494.94,1399.02 516.11,1394.51 537.28,1389.27 558.45,1366.77 579.62,1356.43 600.78,1368.96 621.95,1383.59 643.12,1406 664.29,1410.16 685.46,1414.9 706.63,1414.15 727.8,1410.63" stroke="#eb9cc2"/>
<polyline points="452.6,1404.5 473.77,1397.57 494.94,1400.13 516.11,1407.19 537.28,1405.14 558.45,1393.69 579.62,1359.72 600.78,1365.68 621.95,1407.18 643.12,1414.9 664.29,1413.6 685.46,1414.04 706.63,1413.1 727.8,1413.77" stroke="#e389b4"/>
<polyline points="452.6,1402.37 473.77,1402.28 494.94,1388.74 516.11,1397.12 537.28,1380.82 558.45,1380.53 579.62,1384.27 600.78,1378.21 621.95,1387.16 643.12,1409.14 664.29,1404.23 685.46,1414.9 706.63,1414.9 727.8,1414.9" stroke="#dba3bb"/>
<polyline points="452.6,1406.19 473.77,1398.43 494.94,1401.25 516.11,1406.97 537.28,1407.64 558.45,1398.06 579.62,1388.81 600.78,1383.59 621.95,1392.81 643.12,1402.28 664.29,1413.26 685.46,1414.9 706.63,1411.74 727.8,1414.9" stroke="#efa9c9"/>
<polyline points="452.6,1395.28 473.77,1392.06 494.94,1395.27 516.11,1388.73 537.28,1361.56 558.45,1323.45 579.62,1317.43 600.78,1397.9 621.95,1414.9 643.12,1414.9 664.29,1414.9 685.46,1412.49 706.63,1412.26 727.8,1411.48" stroke="#eb9cc2"/>
<polyline points="452.6,1398.15 473.77,1400.41 494.94,1401.62 516.11,1402.19 537.28,1405.13 558.45,1409.65 579.62,1410.77 600.78,1411.64 621.95,1412.79 643.12,1411.95 664.29,1412.29 685.46,1412.68 706.63,1412.85 727.8,1413.03" stroke="#e389b4"/>
<polyline points="452.6,1394.12 473.77,1403.04 494.94,1402.34 516.11,1404.84 537.28,1405.07 558.45,1408.59 579.62,1410.79 600.78,1410.82 621.95,1412.69 643.12,1412.19 664.29,1411.81 685.46,1412.29 706.63,1411.8 727.8,1411.96" stroke="#dba3bb"/>
<polyline points="452.6,1407.41 473.77,1404.61 494.94,1407.3 516.11,1411.49 537.28,1407.6 558.45,1409.81 579.62,1411.79 600.78,1412.63 621.95,1413.89 643.12,1413.33 664.29,1413.93 685.46,1413.16 706.63,1412.75 727.8,1413.82" stroke="#efa9c9"/>
<polyline points="452.6,1402.62 473.77,1396.48 494.94,1396.48 516.11,1396.48 537.28,1399.55 558.45,1402.62 579.62,1402.62 600.78,1405.69 621.95,1408.76 643.12,1408.76 664.29,1408.76 685.46,1402.62 706.63,1399.55 727.8,1393.41" stroke="#eb9cc2"/>
<polyline points="452.6,1402.62 473.77,1396.48 494.94,1396.48 516.11,1390.34 537.28,1378.06 558.45,1359.64 579.62,1328.94 600.78,1289.03 621.95,1282.89 643.12,1279.82 664.29,1298.24 685.46,1396.48 706.63,1402.62 727.8,1408.76" stroke="#e389b4"/>
<polyline points="452.6,1402.62 473.77,1384.2 494.94,1359.64 516.11,1335.08 537.28,1316.66 558.45,1313.59 579.62,1310.52 600.78,1307.45 621.95,1341.22 643.12,1371.92 664.29,1396.48 685.46,1408.76 706.63,1411.83 727.8,1411.83" stroke="#dba3bb"/>
</g>
<line x1="436.8" y1="1353.5" x2="753.3" y2="1353.5" stroke="#ea7078" stroke-width="2" stroke-dasharray="15 15.7" stroke-dashoffset="0"/>
<line x1="439.8" y1="1414.9" x2="755.3" y2="1414.9" stroke="#4d4d4d" stroke-width="2" stroke-dasharray="15 15.7" stroke-dashoffset="0"/>
<path d="M494.94 1383.77V1400.95M516.11 1366.6V1391.28M537.28 1331.17V1376.26M558.45 1312.92V1364.45M579.62 1316.14V1366.6M600.78 1331.17V1382.7M621.95 1364.45V1404.17M643.12 1374.11V1410.61M664.29 1386.99V1417.05" stroke="#cc1f7c" stroke-width="3.4" fill="none" stroke-linecap="round"/>
<polyline points="452.6,1402.01 473.77,1394.64 494.94,1392.18 516.11,1378.06 537.28,1353.5 558.45,1339.38 579.62,1340.61 600.78,1357.18 621.95,1383.59 643.12,1391.57 664.29,1402.01 685.46,1409.37 706.63,1409.37 727.8,1408.76" fill="none" stroke="#cc1f7c" stroke-width="4.5" stroke-linejoin="round" stroke-linecap="round"/>
<g fill="#cc1f7c">
<circle cx="452.6" cy="1402.01" r="5.1"/>
<circle cx="473.77" cy="1394.64" r="5.1"/>
<circle cx="494.94" cy="1392.18" r="5.1"/>
<circle cx="516.11" cy="1378.06" r="5.1"/>
<circle cx="537.28" cy="1353.5" r="5.1"/>
<circle cx="558.45" cy="1339.38" r="5.1"/>
<circle cx="579.62" cy="1340.61" r="5.1"/>
<circle cx="600.78" cy="1357.18" r="5.1"/>
<circle cx="621.95" cy="1383.59" r="5.1"/>
<circle cx="643.12" cy="1391.57" r="5.1"/>
<circle cx="664.29" cy="1402.01" r="5.1"/>
<circle cx="685.46" cy="1409.37" r="5.1"/>
<circle cx="706.63" cy="1409.37" r="5.1"/>
<circle cx="727.8" cy="1408.76" r="5.1"/>
</g>
<path d="M437.8 1221.6V1426.4H742.8" stroke="#000" stroke-width="3.6" fill="none"/>
<text x="452.6" y="1453.4" font-size="31.5" text-anchor="middle">0</text>
<text x="473.77" y="1453.4" font-size="31.5" text-anchor="middle">1</text>
<text x="516.11" y="1453.4" font-size="31.5" text-anchor="middle">3</text>
<text x="558.45" y="1453.4" font-size="31.5" text-anchor="middle">5</text>
<text x="600.78" y="1453.4" font-size="31.5" text-anchor="middle">7</text>
<text x="643.12" y="1453.4" font-size="31.5" text-anchor="middle">9</text>
<text x="682.96" y="1453.4" font-size="31.5" text-anchor="middle">11</text>
<text x="724.8" y="1453.4" font-size="31.5" text-anchor="middle">13</text>
</g>
<g>
<text x="928.4" y="1206.4" font-size="38.5" text-anchor="middle">PR8-SenNP i.p.</text>
<path d="M794.3 1222.6V1426.4M815.5 1222.6V1426.4M836.7 1222.6V1426.4M857.9 1222.6V1426.4M879.1 1222.6V1426.4M900.3 1222.6V1426.4M921.5 1222.6V1426.4M942.7 1222.6V1426.4M963.9 1222.6V1426.4M985.1 1222.6V1426.4M1006.3 1222.6V1426.4M1027.5 1222.6V1426.4M1048.7 1222.6V1426.4M1069.9 1222.6V1426.4" stroke="#ebebee" stroke-width="1.4" fill="none"/>
<line x1="781.3" y1="1414.9" x2="1084.3" y2="1414.9" stroke="#ececec" stroke-width="1.4"/>
<line x1="781.3" y1="1353.5" x2="1084.3" y2="1353.5" stroke="#ececec" stroke-width="1.2"/>
<line x1="781.3" y1="1292.1" x2="1084.3" y2="1292.1" stroke="#ececec" stroke-width="1.4"/>
<line x1="781.3" y1="1230.7" x2="1084.3" y2="1230.7" stroke="#e3e3e3" stroke-width="3.4"/>
<g fill="none" stroke-width="1.3" stroke-linejoin="round" stroke-opacity="0.9">
<polyline points="794.3,1397.81 815.5,1400.37 836.7,1369.47 857.9,1312.17 879.1,1262.25 900.3,1249.56 921.5,1263.27 942.7,1300.25 963.9,1349.07 985.1,1414.9 1006.3,1413.44 1027.5,1414.9 1048.7,1411.05 1069.9,1410.3" stroke="#a49fcd"/>
<polyline points="794.3,1404.64 815.5,1396.01 836.7,1377.02 857.9,1331.84 879.1,1282.66 900.3,1255.89 921.5,1257.77 942.7,1283.4 963.9,1332.2 985.1,1395.56 1006.3,1413.42 1027.5,1412.84 1048.7,1414.88 1069.9,1414.57" stroke="#918bc0"/>
<polyline points="794.3,1403.96 815.5,1399.5 836.7,1352.67 857.9,1297.15 879.1,1265.99 900.3,1277.58 921.5,1313.37 942.7,1344.98 963.9,1387.69 985.1,1414.75 1006.3,1411.18 1027.5,1414.09 1048.7,1411.63 1069.9,1410.69" stroke="#aaa6c8"/>
<polyline points="794.3,1396.77 815.5,1394.54 836.7,1365.4 857.9,1327.21 879.1,1296.5 900.3,1281.94 921.5,1295.81 942.7,1323.65 963.9,1383.35 985.1,1414.72 1006.3,1414.9 1027.5,1413.61 1048.7,1414.9 1069.9,1410.17" stroke="#9c98c9"/>
<polyline points="794.3,1402.88 815.5,1396.07 836.7,1382.38 857.9,1353.02 879.1,1316.77 900.3,1309.8 921.5,1300.87 942.7,1318.56 963.9,1346.89 985.1,1395.75 1006.3,1413.75 1027.5,1412.02 1048.7,1411.22 1069.9,1414.34" stroke="#a49fcd"/>
<polyline points="794.3,1402.53 815.5,1401.81 836.7,1404.11 857.9,1409.29 879.1,1409.32 900.3,1412.17 921.5,1391.7 942.7,1341.79 963.9,1297.04 985.1,1301.31 1006.3,1360.55 1027.5,1413.84 1048.7,1413.37 1069.9,1414.08" stroke="#918bc0"/>
<polyline points="794.3,1399.76 815.5,1396.81 836.7,1396.31 857.9,1403.3 879.1,1406.6 900.3,1405.98 921.5,1407.19 942.7,1378.89 963.9,1313.96 985.1,1308.15 1006.3,1347.01 1027.5,1396.43 1048.7,1414.9 1069.9,1413.62" stroke="#aaa6c8"/>
<polyline points="794.3,1396.53 815.5,1394.74 836.7,1400.7 857.9,1405.56 879.1,1406.11 900.3,1404.19 921.5,1391.68 942.7,1348.35 963.9,1328.41 985.1,1339 1006.3,1368.78 1027.5,1414.54 1048.7,1414.9 1069.9,1414.9" stroke="#9c98c9"/>
<polyline points="794.3,1399.77 815.5,1397.98 836.7,1399.74 857.9,1405.82 879.1,1408.3 900.3,1406.72 921.5,1407.53 942.7,1382.4 963.9,1350.88 985.1,1341.04 1006.3,1374.64 1027.5,1396.33 1048.7,1411.99 1069.9,1414.9" stroke="#a49fcd"/>
<polyline points="794.3,1404.3 815.5,1400.04 836.7,1404.43 857.9,1408.58 879.1,1404.08 900.3,1354.59 921.5,1339.93 942.7,1338.57 963.9,1364.82 985.1,1408.38 1006.3,1410.03 1027.5,1414.51 1048.7,1413.3 1069.9,1414.9" stroke="#918bc0"/>
<polyline points="794.3,1395.85 815.5,1395.01 836.7,1402.41 857.9,1406.39 879.1,1364.54 900.3,1353.56 921.5,1361.5 942.7,1410.91 963.9,1410.16 985.1,1414.9 1006.3,1413.84 1027.5,1414.72 1048.7,1412.13 1069.9,1410.44" stroke="#aaa6c8"/>
<polyline points="794.3,1408.42 815.5,1402.36 836.7,1397.97 857.9,1408.55 879.1,1409.7 900.3,1390.89 921.5,1360.18 942.7,1352.18 963.9,1394.84 985.1,1414.59 1006.3,1410.41 1027.5,1411.02 1048.7,1411.7 1069.9,1412.5" stroke="#9c98c9"/>
<polyline points="794.3,1408.57 815.5,1403.65 836.7,1403.69 857.9,1409.33 879.1,1408.74 900.3,1409.55 921.5,1408.88 942.7,1405.91 963.9,1388.37 985.1,1361.37 1006.3,1379.56 1027.5,1411.84 1048.7,1414.9 1069.9,1410.52" stroke="#a49fcd"/>
<polyline points="794.3,1407.2 815.5,1398.13 836.7,1399.59 857.9,1408.41 879.1,1407.98 900.3,1412.8 921.5,1412.68 942.7,1413.81 963.9,1413.43 985.1,1386.98 1006.3,1366.69 1027.5,1410.76 1048.7,1410.4 1069.9,1414.9" stroke="#918bc0"/>
<polyline points="794.3,1399.95 815.5,1396.76 836.7,1396.34 857.9,1408 879.1,1377.32 900.3,1370.79 921.5,1409.16 942.7,1408.56 963.9,1410.41 985.1,1413.7 1006.3,1414.9 1027.5,1414.12 1048.7,1414.9 1069.9,1414.26" stroke="#aaa6c8"/>
<polyline points="794.3,1404.09 815.5,1398.51 836.7,1402.06 857.9,1409.38 879.1,1406.06 900.3,1373.2 921.5,1362.66 942.7,1377.16 963.9,1413.82 985.1,1414.9 1006.3,1414.9 1027.5,1414.9 1048.7,1414.9 1069.9,1414.7" stroke="#9c98c9"/>
<polyline points="794.3,1407.66 815.5,1409.73 836.7,1414.9 857.9,1412.15 879.1,1414.31 900.3,1411.62 921.5,1412.53 942.7,1414.53 963.9,1414.21 985.1,1414.36 1006.3,1414.68 1027.5,1414.45 1048.7,1414.51 1069.9,1414.4" stroke="#a49fcd"/>
<polyline points="794.3,1392.03 815.5,1400.61 836.7,1400 857.9,1398.1 879.1,1402.03 900.3,1405.28 921.5,1407.55 942.7,1409.92 963.9,1412.3 985.1,1411.95 1006.3,1412.14 1027.5,1412.26 1048.7,1411.53 1069.9,1412.49" stroke="#918bc0"/>
<polyline points="794.3,1406.47 815.5,1405.8 836.7,1411.45 857.9,1408.35 879.1,1409.55 900.3,1413.58 921.5,1411.42 942.7,1414.21 963.9,1413.99 985.1,1414.56 1006.3,1414.54 1027.5,1413.7 1048.7,1413.44 1069.9,1414.52" stroke="#aaa6c8"/>
<polyline points="794.3,1404.71 815.5,1405.99 836.7,1410.58 857.9,1407.56 879.1,1412 900.3,1408.96 921.5,1411.32 942.7,1412.52 963.9,1412.91 985.1,1413.92 1006.3,1413.98 1027.5,1413.35 1048.7,1412.95 1069.9,1412.9" stroke="#9c98c9"/>
<polyline points="794.3,1396.18 815.5,1400.38 836.7,1398.92 857.9,1402.2 879.1,1403 900.3,1405.91 921.5,1409.03 942.7,1410.64 963.9,1412.68 985.1,1412.56 1006.3,1411.85 1027.5,1411.94 1048.7,1412.94 1069.9,1412.68" stroke="#a49fcd"/>
<polyline points="794.3,1403.4 815.5,1406.6 836.7,1407.46 857.9,1404.78 879.1,1409.52 900.3,1410.34 921.5,1409.86 942.7,1412.88 963.9,1413.24 985.1,1413.77 1006.3,1412.77 1027.5,1412.8 1048.7,1413.67 1069.9,1413.1" stroke="#918bc0"/>
</g>
<line x1="778.3" y1="1353.5" x2="1094.8" y2="1353.5" stroke="#ea7078" stroke-width="2" stroke-dasharray="15 15.7" stroke-dashoffset="0"/>
<line x1="781.3" y1="1414.9" x2="1096.8" y2="1414.9" stroke="#4d4d4d" stroke-width="2" stroke-dasharray="15 15.7" stroke-dashoffset="0"/>
<path d="M815.5 1391.93V1402.66M836.7 1391.93V1403.74M857.9 1358.65V1398.37M879.1 1339.33V1395.15M900.3 1329.67V1393M921.5 1322.16V1383.34M942.7 1329.67V1379.05M963.9 1347.92V1391.93M985.1 1358.65V1396.22M1006.3 1382.27V1409.1" stroke="#5b4b9f" stroke-width="3.4" fill="none" stroke-linecap="round"/>
<polyline points="794.3,1402.01 815.5,1397.71 836.7,1397.71 857.9,1378.06 879.1,1366.39 900.3,1360.87 921.5,1352.89 942.7,1354.11 963.9,1370.08 985.1,1376.83 1006.3,1395.25 1027.5,1409.37 1048.7,1409.99 1069.9,1408.76" fill="none" stroke="#5b4b9f" stroke-width="4.5" stroke-linejoin="round" stroke-linecap="round"/>
<g fill="#5b4b9f">
<circle cx="794.3" cy="1402.01" r="5.1"/>
<circle cx="815.5" cy="1397.71" r="5.1"/>
<circle cx="836.7" cy="1397.71" r="5.1"/>
<circle cx="857.9" cy="1378.06" r="5.1"/>
<circle cx="879.1" cy="1366.39" r="5.1"/>
<circle cx="900.3" cy="1360.87" r="5.1"/>
<circle cx="921.5" cy="1352.89" r="5.1"/>
<circle cx="942.7" cy="1354.11" r="5.1"/>
<circle cx="963.9" cy="1370.08" r="5.1"/>
<circle cx="985.1" cy="1376.83" r="5.1"/>
<circle cx="1006.3" cy="1395.25" r="5.1"/>
<circle cx="1027.5" cy="1409.37" r="5.1"/>
<circle cx="1048.7" cy="1409.99" r="5.1"/>
<circle cx="1069.9" cy="1408.76" r="5.1"/>
</g>
<path d="M779.3 1221.6V1426.4H1084.3" stroke="#000" stroke-width="3.6" fill="none"/>
<text x="792.8" y="1453.4" font-size="31.5" text-anchor="middle">0</text>
<text x="814" y="1453.4" font-size="31.5" text-anchor="middle">1</text>
<text x="856.4" y="1453.4" font-size="31.5" text-anchor="middle">3</text>
<text x="898.8" y="1453.4" font-size="31.5" text-anchor="middle">5</text>
<text x="941.2" y="1453.4" font-size="31.5" text-anchor="middle">7</text>
<text x="983.6" y="1453.4" font-size="31.5" text-anchor="middle">9</text>
<text x="1023.5" y="1453.4" font-size="31.5" text-anchor="middle">11</text>
<text x="1065.4" y="1453.4" font-size="31.5" text-anchor="middle">13</text>
</g>
<g>
<text x="1266.9" y="1206.4" font-size="38.5" text-anchor="middle">PR8-SenNP i.n.</text>
<path d="M1136.5 1222.6V1426.4M1157.65 1222.6V1426.4M1178.79 1222.6V1426.4M1199.94 1222.6V1426.4M1221.08 1222.6V1426.4M1242.23 1222.6V1426.4M1263.38 1222.6V1426.4M1284.52 1222.6V1426.4M1305.67 1222.6V1426.4M1326.82 1222.6V1426.4M1347.96 1222.6V1426.4M1369.11 1222.6V1426.4M1390.25 1222.6V1426.4M1411.4 1222.6V1426.4" stroke="#ebebee" stroke-width="1.4" fill="none"/>
<line x1="1123.4" y1="1414.9" x2="1426.4" y2="1414.9" stroke="#ececec" stroke-width="1.4"/>
<line x1="1123.4" y1="1353.5" x2="1426.4" y2="1353.5" stroke="#ececec" stroke-width="1.2"/>
<line x1="1123.4" y1="1292.1" x2="1426.4" y2="1292.1" stroke="#ececec" stroke-width="1.4"/>
<line x1="1123.4" y1="1230.7" x2="1426.4" y2="1230.7" stroke="#e3e3e3" stroke-width="3.4"/>
<g fill="none" stroke-width="1.3" stroke-linejoin="round" stroke-opacity="0.9">
<polyline points="1136.5,1402.62 1157.65,1399.55 1178.79,1359.64 1199.94,1328.94 1221.08,1298.24 1242.23,1278.59 1263.38,1281.05 1284.52,1276.75 1305.67,1310.52 1326.82,1322.8 1347.96,1347.36 1369.11,1411.83 1390.25,1414.9 1411.4,1411.83" stroke="#d8e39a"/>
<polyline points="1136.5,1402.62 1157.65,1359.64 1178.79,1315.43 1199.94,1317.89 1221.08,1325.87 1242.23,1335.08 1263.38,1359.64 1284.52,1371.92 1305.67,1396.48 1326.82,1408.76 1347.96,1414.9 1369.11,1414.9 1390.25,1414.9 1411.4,1414.9" stroke="#cddc7f"/>
<polyline points="1136.5,1405.69 1157.65,1402.62 1178.79,1396.48 1199.94,1378.06 1221.08,1350.43 1242.23,1336.31 1263.38,1359.64 1284.52,1384.2 1305.67,1402.62 1326.82,1408.76 1347.96,1414.9 1369.11,1414.9 1390.25,1414.9 1411.4,1414.9" stroke="#dde6b0"/>
<polyline points="1136.5,1408.76 1157.65,1405.69 1178.79,1402.62 1199.94,1390.34 1221.08,1347.36 1242.23,1365.78 1263.38,1384.2 1284.52,1396.48 1305.67,1408.76 1326.82,1411.83 1347.96,1414.9 1369.11,1414.9 1390.25,1414.9 1411.4,1414.9" stroke="#d3df92"/>
<polyline points="1136.5,1408.76 1157.65,1408.76 1178.79,1408.76 1199.94,1402.62 1221.08,1396.48 1242.23,1384.2 1263.38,1378.06 1284.52,1368.85 1305.67,1353.5 1326.82,1371.92 1347.96,1390.34 1369.11,1408.76 1390.25,1414.9 1411.4,1414.9" stroke="#d8e39a"/>
<polyline points="1136.5,1408.76 1157.65,1402.62 1178.79,1402.62 1199.94,1396.48 1221.08,1384.2 1242.23,1359.64 1263.38,1353.5 1284.52,1378.06 1305.67,1396.48 1326.82,1408.76 1347.96,1414.9 1369.11,1414.9 1390.25,1414.9 1411.4,1414.9" stroke="#cddc7f"/>
<polyline points="1136.5,1399.55 1157.65,1396.48 1178.79,1393.41 1199.94,1390.34 1221.08,1384.2 1242.23,1387.27 1263.38,1371.92 1284.52,1378.06 1305.67,1356.57 1326.82,1384.2 1347.96,1402.62 1369.11,1414.9 1390.25,1414.9 1411.4,1408.76" stroke="#dde6b0"/>
<polyline points="1136.5,1402.62 1157.65,1396.48 1178.79,1390.34 1199.94,1387.27 1221.08,1390.34 1242.23,1396.48 1263.38,1402.62 1284.52,1405.69 1305.67,1408.76 1326.82,1411.83 1347.96,1414.9 1369.11,1414.9 1390.25,1411.83 1411.4,1405.69" stroke="#d3df92"/>
<polyline points="1136.5,1412.74 1157.65,1408.02 1178.79,1412.11 1199.94,1410.01 1221.08,1413.4 1242.23,1410.09 1263.38,1412.29 1284.52,1413.99 1305.67,1414.63 1326.82,1413.49 1347.96,1413.4 1369.11,1414.22 1390.25,1414.56 1411.4,1413.28" stroke="#d8e39a"/>
<polyline points="1136.5,1395.92 1157.65,1401.1 1178.79,1397.93 1199.94,1398.92 1221.08,1405.23 1242.23,1406.87 1263.38,1407.24 1284.52,1410.05 1305.67,1411.38 1326.82,1411.82 1347.96,1412.39 1369.11,1411.33 1390.25,1411.54 1411.4,1411.46" stroke="#cddc7f"/>
<polyline points="1136.5,1408.83 1157.65,1403.64 1178.79,1405.42 1199.94,1412.19 1221.08,1412.75 1242.23,1412.94 1263.38,1411.7 1284.52,1413.66 1305.67,1414.19 1326.82,1413.67 1347.96,1413.02 1369.11,1413.73 1390.25,1414.31 1411.4,1414.23" stroke="#dde6b0"/>
<polyline points="1136.5,1409.25 1157.65,1410.96 1178.79,1412.42 1199.94,1411.09 1221.08,1412.39 1242.23,1412.94 1263.38,1413.83 1284.52,1413.13 1305.67,1413.43 1326.82,1414.02 1347.96,1414.38 1369.11,1413.92 1390.25,1414.43 1411.4,1414.34" stroke="#d3df92"/>
<polyline points="1136.5,1404.41 1157.65,1412.97 1178.79,1409.92 1199.94,1413.73 1221.08,1412.06 1242.23,1409.9 1263.38,1411.6 1284.52,1413.52 1305.67,1414.27 1326.82,1414.27 1347.96,1413.86 1369.11,1414.01 1390.25,1414.27 1411.4,1414.61" stroke="#d8e39a"/>
<polyline points="1136.5,1392.93 1157.65,1395.7 1178.79,1401.57 1199.94,1404.17 1221.08,1407.51 1242.23,1405.18 1263.38,1409.42 1284.52,1412.05 1305.67,1411.65 1326.82,1412.12 1347.96,1411.98 1369.11,1412.29 1390.25,1412.76 1411.4,1411.9" stroke="#cddc7f"/>
<polyline points="1136.5,1398.47 1157.65,1396.54 1178.79,1404.65 1199.94,1401.01 1221.08,1405.39 1242.23,1409.34 1263.38,1408.35 1284.52,1410.48 1305.67,1411.98 1326.82,1412.54 1347.96,1412.3 1369.11,1412.3 1390.25,1412.13 1411.4,1412.57" stroke="#dde6b0"/>
<polyline points="1136.5,1412.84 1157.65,1412.9 1178.79,1414.9 1199.94,1414.58 1221.08,1411.94 1242.23,1413.2 1263.38,1414.7 1284.52,1413.33 1305.67,1414.9 1326.82,1414.9 1347.96,1414.12 1369.11,1413.77 1390.25,1413.82 1411.4,1414.14" stroke="#d3df92"/>
<polyline points="1136.5,1406.91 1157.65,1401.85 1178.79,1405.61 1199.94,1409.95 1221.08,1407.06 1242.23,1409.21 1263.38,1409.9 1284.52,1412.86 1305.67,1413.43 1326.82,1413.23 1347.96,1413.64 1369.11,1413.64 1390.25,1412.71 1411.4,1412.87" stroke="#d8e39a"/>
<polyline points="1136.5,1393.23 1157.65,1396.51 1178.79,1403.49 1199.94,1400.02 1221.08,1405.88 1242.23,1405.8 1263.38,1408.02 1284.52,1411.29 1305.67,1411.71 1326.82,1412.64 1347.96,1412.6 1369.11,1411.64 1390.25,1412.28 1411.4,1412.02" stroke="#cddc7f"/>
</g>
<line x1="1120.4" y1="1353.5" x2="1436.9" y2="1353.5" stroke="#ea7078" stroke-width="2" stroke-dasharray="15 15.7" stroke-dashoffset="0"/>
<line x1="1123.4" y1="1414.9" x2="1438.9" y2="1414.9" stroke="#4d4d4d" stroke-width="2" stroke-dasharray="15 15.7" stroke-dashoffset="0"/>
<path d="M1157.65 1394.93V1407.82M1178.79 1383.13V1408.89M1199.94 1377.76V1403.52M1221.08 1362.73V1397.08M1242.23 1364.88V1402.45M1263.38 1371.32V1406.74M1284.52 1377.76V1414.26M1305.67 1380.98V1408.89M1326.82 1390.64V1416.4M1347.96 1398.15V1414.26" stroke="#a6c620" stroke-width="3.4" fill="none" stroke-linecap="round"/>
<polyline points="1136.5,1400.78 1157.65,1401.39 1178.79,1395.87 1199.94,1390.34 1221.08,1379.29 1242.23,1382.97 1263.38,1388.5 1284.52,1394.64 1305.67,1394.64 1326.82,1402.62 1347.96,1406.92 1369.11,1411.83 1390.25,1411.22 1411.4,1408.15" fill="none" stroke="#a6c620" stroke-width="4.5" stroke-linejoin="round" stroke-linecap="round"/>
<g fill="#a6c620">
<circle cx="1136.5" cy="1400.78" r="5.1"/>
<circle cx="1157.65" cy="1401.39" r="5.1"/>
<circle cx="1178.79" cy="1395.87" r="5.1"/>
<circle cx="1199.94" cy="1390.34" r="5.1"/>
<circle cx="1221.08" cy="1379.29" r="5.1"/>
<circle cx="1242.23" cy="1382.97" r="5.1"/>
<circle cx="1263.38" cy="1388.5" r="5.1"/>
<circle cx="1284.52" cy="1394.64" r="5.1"/>
<circle cx="1305.67" cy="1394.64" r="5.1"/>
<circle cx="1326.82" cy="1402.62" r="5.1"/>
<circle cx="1347.96" cy="1406.92" r="5.1"/>
<circle cx="1369.11" cy="1411.83" r="5.1"/>
<circle cx="1390.25" cy="1411.22" r="5.1"/>
<circle cx="1411.4" cy="1408.15" r="5.1"/>
</g>
<path d="M1121.4 1221.6V1426.4H1426.4" stroke="#000" stroke-width="3.6" fill="none"/>
<text x="1136.5" y="1453.4" font-size="31.5" text-anchor="middle">0</text>
<text x="1157.65" y="1453.4" font-size="31.5" text-anchor="middle">1</text>
<text x="1199.94" y="1453.4" font-size="31.5" text-anchor="middle">3</text>
<text x="1242.23" y="1453.4" font-size="31.5" text-anchor="middle">5</text>
<text x="1284.52" y="1453.4" font-size="31.5" text-anchor="middle">7</text>
<text x="1326.82" y="1453.4" font-size="31.5" text-anchor="middle">9</text>
<text x="1366.61" y="1453.4" font-size="31.5" text-anchor="middle">11</text>
<text x="1408.4" y="1453.4" font-size="31.5" text-anchor="middle">13</text>
</g>
<g>
<text x="1609.6" y="1206.4" font-size="38.5" text-anchor="middle">LAIV-SenNP i.n.</text>
<path d="M1478.2 1222.6V1426.4M1499.35 1222.6V1426.4M1520.49 1222.6V1426.4M1541.64 1222.6V1426.4M1562.78 1222.6V1426.4M1583.93 1222.6V1426.4M1605.08 1222.6V1426.4M1626.22 1222.6V1426.4M1647.37 1222.6V1426.4M1668.52 1222.6V1426.4M1689.66 1222.6V1426.4M1710.81 1222.6V1426.4M1731.95 1222.6V1426.4M1753.1 1222.6V1426.4" stroke="#ebebee" stroke-width="1.4" fill="none"/>
<line x1="1465.2" y1="1414.9" x2="1768.1" y2="1414.9" stroke="#e3e3e3" stroke-width="3.2"/>
<line x1="1465.2" y1="1353.5" x2="1768.1" y2="1353.5" stroke="#ececec" stroke-width="1.2"/>
<line x1="1465.2" y1="1292.1" x2="1768.1" y2="1292.1" stroke="#ececec" stroke-width="1.4"/>
<line x1="1465.2" y1="1230.7" x2="1768.1" y2="1230.7" stroke="#e3e3e3" stroke-width="3.4"/>
<g fill="none" stroke-width="1.3" stroke-linejoin="round" stroke-opacity="0.9">
<polyline points="1478.2,1409.5 1499.35,1403.64 1520.49,1385.61 1541.64,1316.3 1562.78,1284.61 1583.93,1297.47 1605.08,1340.46 1626.22,1405.8 1647.37,1414.59 1668.52,1413.55 1689.66,1410.76 1710.81,1414.76 1731.95,1414.71 1753.1,1410.97" stroke="#8cc9a5"/>
<polyline points="1478.2,1400.86 1499.35,1394.71 1520.49,1398.03 1541.64,1392.39 1562.78,1318.97 1583.93,1298.05 1605.08,1310.39 1626.22,1347.55 1647.37,1376.67 1668.52,1414.9 1689.66,1414.37 1710.81,1414.9 1731.95,1410.65 1753.1,1414.9" stroke="#76bd93"/>
<polyline points="1478.2,1394.75 1499.35,1396.28 1520.49,1399.17 1541.64,1407.66 1562.78,1363.93 1583.93,1329.99 1605.08,1303.78 1626.22,1306.31 1647.37,1346.64 1668.52,1398.64 1689.66,1410.98 1710.81,1414.9 1731.95,1411.97 1753.1,1413.82" stroke="#9cc6ad"/>
<polyline points="1478.2,1402.16 1499.35,1391.37 1520.49,1400.32 1541.64,1387.29 1562.78,1366.71 1583.93,1328.93 1605.08,1311.3 1626.22,1348.33 1647.37,1402.35 1668.52,1411.35 1689.66,1411.88 1710.81,1414.9 1731.95,1414.9 1753.1,1414.9" stroke="#86c5a0"/>
<polyline points="1478.2,1400.89 1499.35,1393.06 1520.49,1393.52 1541.64,1403.14 1562.78,1383.97 1583.93,1345.73 1605.08,1318.74 1626.22,1329.17 1647.37,1365.37 1668.52,1395.4 1689.66,1414.66 1710.81,1411.93 1731.95,1414.9 1753.1,1414.15" stroke="#8cc9a5"/>
<polyline points="1478.2,1404.66 1499.35,1404.26 1520.49,1401.39 1541.64,1406.52 1562.78,1411.9 1583.93,1412.78 1605.08,1402.1 1626.22,1332.14 1647.37,1292.03 1668.52,1297.99 1689.66,1325.96 1710.81,1384.72 1731.95,1414.9 1753.1,1414.9" stroke="#76bd93"/>
<polyline points="1478.2,1404.29 1499.35,1398.35 1520.49,1402.25 1541.64,1405.07 1562.78,1406.36 1583.93,1405.29 1605.08,1397.6 1626.22,1358.36 1647.37,1312.5 1668.52,1293.86 1689.66,1303.43 1710.81,1353.41 1731.95,1401.67 1753.1,1412.65" stroke="#9cc6ad"/>
<polyline points="1478.2,1404.68 1499.35,1402.79 1520.49,1397.94 1541.64,1409.55 1562.78,1379.97 1583.93,1335.29 1605.08,1336.14 1626.22,1345.63 1647.37,1389.99 1668.52,1414.9 1689.66,1414.9 1710.81,1414.59 1731.95,1414.49 1753.1,1414.58" stroke="#86c5a0"/>
<polyline points="1478.2,1402.44 1499.35,1398.99 1520.49,1398.27 1541.64,1403.26 1562.78,1352.37 1583.93,1347.07 1605.08,1365.18 1626.22,1394.69 1647.37,1414.9 1668.52,1412.37 1689.66,1413.4 1710.81,1413.36 1731.95,1412.46 1753.1,1413.73" stroke="#8cc9a5"/>
<polyline points="1478.2,1402.56 1499.35,1395.06 1520.49,1396.27 1541.64,1404.57 1562.78,1406.83 1583.93,1380.86 1605.08,1349.78 1626.22,1348.7 1647.37,1363.05 1668.52,1390.84 1689.66,1411.94 1710.81,1410.59 1731.95,1414.57 1753.1,1414.9" stroke="#76bd93"/>
<polyline points="1478.2,1401.98 1499.35,1399.94 1520.49,1398.84 1541.64,1404.41 1562.78,1405.65 1583.93,1409.55 1605.08,1364.66 1626.22,1320.18 1647.37,1349.84 1668.52,1414.77 1689.66,1411.13 1710.81,1412.14 1731.95,1411.57 1753.1,1411.38" stroke="#9cc6ad"/>
<polyline points="1478.2,1404.68 1499.35,1399.8 1520.49,1398.68 1541.64,1406.34 1562.78,1405.81 1583.93,1410.84 1605.08,1409.74 1626.22,1399.52 1647.37,1345.84 1668.52,1392.94 1689.66,1413.46 1710.81,1410.98 1731.95,1413.54 1753.1,1413.66" stroke="#86c5a0"/>
<polyline points="1478.2,1399.68 1499.35,1395.25 1520.49,1397 1541.64,1403.61 1562.78,1405.62 1583.93,1373.31 1605.08,1362.38 1626.22,1386.28 1647.37,1411.2 1668.52,1414.15 1689.66,1412.1 1710.81,1411.52 1731.95,1413.63 1753.1,1414.9" stroke="#8cc9a5"/>
<polyline points="1478.2,1408.37 1499.35,1404.06 1520.49,1401.28 1541.64,1410.27 1562.78,1408.74 1583.93,1398.08 1605.08,1378.11 1626.22,1372.65 1647.37,1397.17 1668.52,1408.52 1689.66,1414.9 1710.81,1414.9 1731.95,1414.9 1753.1,1411.26" stroke="#76bd93"/>
<polyline points="1478.2,1401.25 1499.35,1403.49 1520.49,1404.93 1541.64,1402.15 1562.78,1403.71 1583.93,1405.36 1605.08,1408.77 1626.22,1410.9 1647.37,1412.13 1668.52,1412.43 1689.66,1412.34 1710.81,1412.93 1731.95,1413.08 1753.1,1411.86" stroke="#9cc6ad"/>
<polyline points="1478.2,1395.32 1499.35,1399.46 1520.49,1402.56 1541.64,1407.09 1562.78,1404.55 1583.93,1408.1 1605.08,1408.69 1626.22,1410.95 1647.37,1412.23 1668.52,1412.45 1689.66,1412.21 1710.81,1412.75 1731.95,1412.33 1753.1,1412.61" stroke="#86c5a0"/>
<polyline points="1478.2,1398.54 1499.35,1401.1 1520.49,1404.15 1541.64,1406.45 1562.78,1409.85 1583.93,1408.21 1605.08,1411.29 1626.22,1412.58 1647.37,1412.61 1668.52,1413.18 1689.66,1412.85 1710.81,1413.61 1731.95,1412.77 1753.1,1412.48" stroke="#8cc9a5"/>
<polyline points="1478.2,1399.72 1499.35,1403.8 1520.49,1404.07 1541.64,1407.41 1562.78,1409.39 1583.93,1407.78 1605.08,1410.48 1626.22,1411.36 1647.37,1413.38 1668.52,1413.49 1689.66,1413.08 1710.81,1413 1731.95,1413.78 1753.1,1413.75" stroke="#76bd93"/>
<polyline points="1478.2,1407.97 1499.35,1407.78 1520.49,1402.45 1541.64,1404.19 1562.78,1406.27 1583.93,1410.66 1605.08,1409.49 1626.22,1412.6 1647.37,1412.71 1668.52,1413.46 1689.66,1412.5 1710.81,1413.65 1731.95,1413.81 1753.1,1413.61" stroke="#9cc6ad"/>
<polyline points="1478.2,1408.76 1499.35,1408.76 1520.49,1408.76 1541.64,1408.76 1562.78,1408.76 1583.93,1411.83 1605.08,1411.83 1626.22,1411.83 1647.37,1414.9 1668.52,1414.9 1689.66,1414.9 1710.81,1414.9 1731.95,1396.48 1753.1,1359.64" stroke="#86c5a0"/>
</g>
<line x1="1462.2" y1="1353.5" x2="1778.6" y2="1353.5" stroke="#ea7078" stroke-width="2" stroke-dasharray="15 15.7" stroke-dashoffset="0"/>
<line x1="1772.1" y1="1414.9" x2="1780.6" y2="1414.9" stroke="#4d4d4d" stroke-width="2"/>
<path d="M1499.35 1397.08V1407.82M1520.49 1394.93V1406.74M1541.64 1376.69V1404.6M1562.78 1354.14V1396.01M1583.93 1342.34V1389.57M1605.08 1342.34V1383.13M1626.22 1345.56V1387.42M1647.37 1362.73V1405.67M1668.52 1374.54V1414.26M1689.66 1380.98V1417.48M1710.81 1401.37V1416.4M1753.1 1398.15V1412.11" stroke="#0f9b4b" stroke-width="3.4" fill="none" stroke-linecap="round"/>
<polyline points="1478.2,1403.23 1499.35,1402.62 1520.49,1400.78 1541.64,1390.34 1562.78,1374.38 1583.93,1365.78 1605.08,1363.94 1626.22,1365.78 1647.37,1384.2 1668.52,1394.64 1689.66,1399.55 1710.81,1408.15 1731.95,1408.76 1753.1,1405.69" fill="none" stroke="#0f9b4b" stroke-width="4.5" stroke-linejoin="round" stroke-linecap="round"/>
<g fill="#0f9b4b">
<circle cx="1478.2" cy="1403.23" r="5.1"/>
<circle cx="1499.35" cy="1402.62" r="5.1"/>
<circle cx="1520.49" cy="1400.78" r="5.1"/>
<circle cx="1541.64" cy="1390.34" r="5.1"/>
<circle cx="1562.78" cy="1374.38" r="5.1"/>
<circle cx="1583.93" cy="1365.78" r="5.1"/>
<circle cx="1605.08" cy="1363.94" r="5.1"/>
<circle cx="1626.22" cy="1365.78" r="5.1"/>
<circle cx="1647.37" cy="1384.2" r="5.1"/>
<circle cx="1668.52" cy="1394.64" r="5.1"/>
<circle cx="1689.66" cy="1399.55" r="5.1"/>
<circle cx="1710.81" cy="1408.15" r="5.1"/>
<circle cx="1731.95" cy="1408.76" r="5.1"/>
<circle cx="1753.1" cy="1405.69" r="5.1"/>
</g>
<path d="M1463.2 1221.6V1426.4H1768.1" stroke="#000" stroke-width="3.6" fill="none"/>
<text x="1478.2" y="1453.4" font-size="31.5" text-anchor="middle">0</text>
<text x="1499.35" y="1453.4" font-size="31.5" text-anchor="middle">1</text>
<text x="1541.64" y="1453.4" font-size="31.5" text-anchor="middle">3</text>
<text x="1583.93" y="1453.4" font-size="31.5" text-anchor="middle">5</text>
<text x="1626.22" y="1453.4" font-size="31.5" text-anchor="middle">7</text>
<text x="1668.52" y="1453.4" font-size="31.5" text-anchor="middle">9</text>
<text x="1708.31" y="1453.4" font-size="31.5" text-anchor="middle">11</text>
<text x="1750.1" y="1453.4" font-size="31.5" text-anchor="middle">13</text>
</g>
<g>
<text x="1960" y="1206.4" font-size="38.5" text-anchor="middle">Ad-SenNP i.n.</text>
<path d="M1820 1222.6V1426.4M1841.15 1222.6V1426.4M1862.31 1222.6V1426.4M1883.46 1222.6V1426.4M1904.62 1222.6V1426.4M1925.77 1222.6V1426.4M1946.92 1222.6V1426.4M1968.08 1222.6V1426.4M1989.23 1222.6V1426.4M2010.38 1222.6V1426.4M2031.54 1222.6V1426.4M2052.69 1222.6V1426.4M2073.85 1222.6V1426.4M2095 1222.6V1426.4" stroke="#ebebee" stroke-width="1.4" fill="none"/>
<line x1="1807.2" y1="1414" x2="2110" y2="1414" stroke="#ececec" stroke-width="1.4"/>
<line x1="1807.2" y1="1353.17" x2="2110" y2="1353.17" stroke="#ececec" stroke-width="1.2"/>
<line x1="1807.2" y1="1292.33" x2="2110" y2="1292.33" stroke="#e0e0e0" stroke-width="2.6"/>
<line x1="1807.2" y1="1231.5" x2="2110" y2="1231.5" stroke="#e0e0e0" stroke-width="2.6"/>
<g fill="none" stroke-width="1.3" stroke-linejoin="round" stroke-opacity="0.9">
<polyline points="1820,1395.75 1841.15,1383.58 1862.31,1380.54 1883.46,1383.58 1904.62,1395.75 1925.77,1407.92 1946.92,1407.92 1968.08,1407.92 1989.23,1409.13 2010.38,1407.92 2031.54,1407.92 2052.69,1410.96 2073.85,1410.96 2095,1407.92" stroke="#bcbca2"/>
<polyline points="1820,1398.79 1841.15,1386.62 1862.31,1384.8 1883.46,1386.62 1904.62,1389.67 1925.77,1406.7 1946.92,1404.88 1968.08,1403.66 1989.23,1407.92 2010.38,1407.92 2031.54,1407.92 2052.69,1410.96 2073.85,1410.96 2095,1410.96" stroke="#adad90"/>
<polyline points="1820,1401.83 1841.15,1398.79 1862.31,1395.75 1883.46,1389.67 1904.62,1386.62 1925.77,1407.92 1946.92,1410.96 1968.08,1407.92 1989.23,1396.97 2010.38,1409.13 2031.54,1406.7 2052.69,1410.35 2073.85,1410.96 2095,1406.7" stroke="#c3c3b0"/>
<polyline points="1820,1404.88 1841.15,1398.79 1862.31,1395.75 1883.46,1390.88 1904.62,1398.79 1925.77,1407.92 1946.92,1410.96 1968.08,1410.96 1989.23,1410.96 2010.38,1410.96 2031.54,1410.96 2052.69,1410.96 2073.85,1410.96 2095,1410.96" stroke="#b4b498"/>
<polyline points="1820,1400.68 1841.15,1401.5 1862.31,1406.44 1883.46,1404.93 1904.62,1406.14 1925.77,1408.4 1946.92,1409.8 1968.08,1411.52 1989.23,1412.18 2010.38,1412.02 2031.54,1411.76 2052.69,1412.03 2073.85,1412.14 2095,1412.26" stroke="#bcbca2"/>
<polyline points="1820,1403.24 1841.15,1405.87 1862.31,1404.53 1883.46,1406.03 1904.62,1406.31 1925.77,1408.9 1946.92,1409.68 1968.08,1411.55 1989.23,1412.23 2010.38,1412.61 2031.54,1412.26 2052.69,1412.49 2073.85,1412.31 2095,1412.44" stroke="#adad90"/>
<polyline points="1820,1403.63 1841.15,1404.62 1862.31,1405.71 1883.46,1406.04 1904.62,1408.16 1925.77,1408.35 1946.92,1409.88 1968.08,1411.74 1989.23,1412.26 2010.38,1412.21 2031.54,1412.77 2052.69,1412.41 2073.85,1412.52 2095,1412.46" stroke="#c3c3b0"/>
<polyline points="1820,1404.3 1841.15,1406.51 1862.31,1409.57 1883.46,1411.26 1904.62,1409.35 1925.77,1411.25 1946.92,1412.63 1968.08,1412.75 1989.23,1413.27 2010.38,1412.51 2031.54,1413.19 2052.69,1412.97 2073.85,1413.39 2095,1412.63" stroke="#b4b498"/>
<polyline points="1820,1408.65 1841.15,1406.1 1862.31,1405.88 1883.46,1408.58 1904.62,1409.23 1925.77,1409.15 1946.92,1411.41 1968.08,1412.08 1989.23,1412.41 2010.38,1412.61 2031.54,1412.75 2052.69,1412.91 2073.85,1412.65 2095,1412.52" stroke="#bcbca2"/>
<polyline points="1820,1404.27 1841.15,1404.85 1862.31,1404.9 1883.46,1407.9 1904.62,1406.69 1925.77,1409.52 1946.92,1410.59 1968.08,1411.75 1989.23,1412.53 2010.38,1411.97 2031.54,1412.39 2052.69,1412.65 2073.85,1412 2095,1412.01" stroke="#adad90"/>
<polyline points="1820,1414 1841.15,1414 1862.31,1412.36 1883.46,1412.05 1904.62,1413.66 1925.77,1412.27 1946.92,1414 1968.08,1413.76 1989.23,1413.76 2010.38,1413.76 2031.54,1413.64 2052.69,1413.64 2073.85,1413.99 2095,1414" stroke="#c3c3b0"/>
<polyline points="1820,1408.36 1841.15,1408.58 1862.31,1411.09 1883.46,1408.2 1904.62,1411.77 1925.77,1412.14 1946.92,1411.95 1968.08,1412.45 1989.23,1413.4 2010.38,1412.72 2031.54,1413.04 2052.69,1412.85 2073.85,1413.09 2095,1413.07" stroke="#b4b498"/>
<polyline points="1820,1407.89 1841.15,1408.37 1862.31,1408.01 1883.46,1408.61 1904.62,1409.98 1925.77,1411.96 1946.92,1412.37 1968.08,1412.47 1989.23,1413.22 2010.38,1413.1 2031.54,1412.75 2052.69,1412.59 2073.85,1413.34 2095,1413.19" stroke="#bcbca2"/>
<polyline points="1820,1408.59 1841.15,1405.5 1862.31,1405.79 1883.46,1407.83 1904.62,1408.7 1925.77,1411.19 1946.92,1412.01 1968.08,1412.88 1989.23,1412.89 2010.38,1412.95 2031.54,1413.22 2052.69,1412.68 2073.85,1412.97 2095,1412.7" stroke="#adad90"/>
</g>
<line x1="1804.2" y1="1353.17" x2="2120.5" y2="1353.17" stroke="#ea7078" stroke-width="2" stroke-dasharray="15 15.7" stroke-dashoffset="0"/>
<line x1="1807.2" y1="1414" x2="2122.5" y2="1414" stroke="#4d4d4d" stroke-width="2" stroke-dasharray="15 15.7" stroke-dashoffset="0"/>
<path d="M1841.15 1397.29V1406.93M1862.31 1396.22V1405.86M1883.46 1391.94V1402.65M1904.62 1399.43V1408" stroke="#808040" stroke-width="3.4" fill="none" stroke-linecap="round"/>
<polyline points="1820,1405.48 1841.15,1401.83 1862.31,1401.22 1883.46,1397.58 1904.62,1403.66 1925.77,1409.74 1946.92,1410.96 1968.08,1410.96 1989.23,1410.96 2010.38,1411.57 2031.54,1411.57 2052.69,1411.57 2073.85,1411.57 2095,1410.96" fill="none" stroke="#808040" stroke-width="3.4" stroke-linejoin="round" stroke-linecap="round"/>
<g fill="#808040">
<circle cx="1820" cy="1405.48" r="4.4"/>
<circle cx="1841.15" cy="1401.83" r="4.4"/>
<circle cx="1862.31" cy="1401.22" r="4.4"/>
<circle cx="1883.46" cy="1397.58" r="4.4"/>
<circle cx="1904.62" cy="1403.66" r="4.4"/>
<circle cx="1925.77" cy="1409.74" r="4.4"/>
<circle cx="1946.92" cy="1410.96" r="4.4"/>
<circle cx="1968.08" cy="1410.96" r="4.4"/>
<circle cx="1989.23" cy="1410.96" r="4.4"/>
<circle cx="2010.38" cy="1411.57" r="4.4"/>
<circle cx="2031.54" cy="1411.57" r="4.4"/>
<circle cx="2052.69" cy="1411.57" r="4.4"/>
<circle cx="2073.85" cy="1411.57" r="4.4"/>
<circle cx="2095" cy="1410.96" r="4.4"/>
</g>
<path d="M1805.2 1221.6V1426.4H2110" stroke="#000" stroke-width="2.7" fill="none"/>
<text x="1820" y="1453.4" font-size="31.5" text-anchor="middle">0</text>
<text x="1841.15" y="1453.4" font-size="31.5" text-anchor="middle">1</text>
<text x="1883.46" y="1453.4" font-size="31.5" text-anchor="middle">3</text>
<text x="1925.77" y="1453.4" font-size="31.5" text-anchor="middle">5</text>
<text x="1968.08" y="1453.4" font-size="31.5" text-anchor="middle">7</text>
<text x="2010.38" y="1453.4" font-size="31.5" text-anchor="middle">9</text>
<text x="2050.19" y="1453.4" font-size="31.5" text-anchor="middle">11</text>
<text x="2092" y="1453.4" font-size="31.5" text-anchor="middle">13</text>
</g>
</g>
<g id="panel-d">
<text x="-3.5" y="1567.2" font-size="47.5" font-weight="bold">d</text>
<text x="91" y="1593.2" font-size="38.5">6 months</text>
<text font-size="38.5" text-anchor="middle" transform="translate(51.5 1780.4) rotate(-90)">log10 (flux)</text>
<text x="1111.7" y="1950.8" font-size="34.3" text-anchor="middle">days post-exposure</text>
<g>
<text x="242.8" y="1650.1" font-size="38.5" text-anchor="middle">x31 WT i.n.</text>
<path d="M110.9 1665.7V1883.8M132.03 1665.7V1883.8M153.16 1665.7V1883.8M174.29 1665.7V1883.8M195.42 1665.7V1883.8M216.55 1665.7V1883.8M237.68 1665.7V1883.8M258.82 1665.7V1883.8M279.95 1665.7V1883.8M301.08 1665.7V1883.8M322.21 1665.7V1883.8M343.34 1665.7V1883.8M364.47 1665.7V1883.8M385.6 1665.7V1883.8" stroke="#ebebee" stroke-width="1.4" fill="none"/>
<line x1="98.5" y1="1871.6" x2="400.6" y2="1871.6" stroke="#e3e3e3" stroke-width="3"/>
<line x1="98.5" y1="1813.9" x2="400.6" y2="1813.9" stroke="#ececec" stroke-width="1.2"/>
<line x1="98.5" y1="1756.2" x2="400.6" y2="1756.2" stroke="#ececec" stroke-width="1.3"/>
<line x1="98.5" y1="1698.5" x2="400.6" y2="1698.5" stroke="#ececec" stroke-width="1.3"/>
<g fill="none" stroke-width="1.3" stroke-linejoin="round" stroke-opacity="0.9">
<polyline points="110.9,1857.63 132.03,1855.82 153.16,1856.68 174.29,1858.69 195.42,1817 216.55,1757.7 237.68,1708.31 258.82,1684.08 279.95,1670.39 301.08,1692.9 322.21,1725.03 343.34,1768.35 364.47,1795.12 385.6,1842.45" stroke="#eba392"/>
<polyline points="110.9,1859.27 132.03,1859.39 153.16,1857.59 174.29,1851.01 195.42,1832.25 216.55,1779.04 237.68,1750.17 258.82,1716.59 279.95,1696.7 301.08,1687.24 322.21,1721.77 343.34,1793.51 364.47,1850.24 385.6,1871.54" stroke="#e58f7c"/>
<polyline points="110.9,1853.14 132.03,1852.5 153.16,1856.96 174.29,1832.53 195.42,1807.13 216.55,1756.34 237.68,1728.78 258.82,1716.15 279.95,1717.77 301.08,1736.69 322.21,1770.81 343.34,1799.14 364.47,1850 385.6,1871.6" stroke="#d9a596"/>
<polyline points="110.9,1860.11 132.03,1857.22 153.16,1857.16 174.29,1847.5 195.42,1833.54 216.55,1787.69 237.68,1755.2 258.82,1728.06 279.95,1721.11 301.08,1723.01 322.21,1744.43 343.34,1795.52 364.47,1839.85 385.6,1860.66" stroke="#e9ab9c"/>
<polyline points="110.9,1862.9 132.03,1857.91 153.16,1858.49 174.29,1837.84 195.42,1814.48 216.55,1772.48 237.68,1742.2 258.82,1728.37 279.95,1735.13 301.08,1772.8 322.21,1805.26 343.34,1847.97 364.47,1870.4 385.6,1871.6" stroke="#eba392"/>
<polyline points="110.9,1862.46 132.03,1864.14 153.16,1859.63 174.29,1853.24 195.42,1818.7 216.55,1780.7 237.68,1738.94 258.82,1732.94 279.95,1741.03 301.08,1776.09 322.21,1804.63 343.34,1828.15 364.47,1859.41 385.6,1867.67" stroke="#e58f7c"/>
<polyline points="110.9,1857.39 132.03,1856.28 153.16,1856.02 174.29,1846.03 195.42,1823.24 216.55,1788.63 237.68,1760.16 258.82,1735.47 279.95,1745.34 301.08,1770.94 322.21,1814.02 343.34,1856.55 364.47,1871.6 385.6,1871.6" stroke="#d9a596"/>
<polyline points="110.9,1860.48 132.03,1859.56 153.16,1856.4 174.29,1849.94 195.42,1826.57 216.55,1801.91 237.68,1760.2 258.82,1750.37 279.95,1739.64 301.08,1753.09 322.21,1780.52 343.34,1816 364.47,1846.02 385.6,1871.6" stroke="#e9ab9c"/>
<polyline points="110.9,1855.31 132.03,1855.14 153.16,1854.17 174.29,1846.73 195.42,1816.82 216.55,1775.5 237.68,1750.86 258.82,1743.89 279.95,1754.13 301.08,1782.67 322.21,1814.26 343.34,1849.41 364.47,1871.6 385.6,1867.17" stroke="#eba392"/>
<polyline points="110.9,1859.98 132.03,1857.67 153.16,1861.97 174.29,1862.57 195.42,1830.81 216.55,1804.54 237.68,1776.73 258.82,1754.74 279.95,1744.94 301.08,1762.71 322.21,1783.49 343.34,1825.74 364.47,1860.15 385.6,1870.04" stroke="#e58f7c"/>
<polyline points="110.9,1863.01 132.03,1865.15 153.16,1860.91 174.29,1835.39 195.42,1817.68 216.55,1794.86 237.68,1774.91 258.82,1754.28 279.95,1757.63 301.08,1808.9 322.21,1864.72 343.34,1871.3 364.47,1868.26 385.6,1871.34" stroke="#d9a596"/>
<polyline points="110.9,1855.62 132.03,1858.27 153.16,1860.23 174.29,1864.03 195.42,1829.59 216.55,1807.97 237.68,1776.9 258.82,1755.1 279.95,1762.11 301.08,1791.38 322.21,1834.9 343.34,1855.24 364.47,1870.73 385.6,1868.84" stroke="#e9ab9c"/>
<polyline points="110.9,1854.99 132.03,1858.62 153.16,1858.68 174.29,1863.42 195.42,1847.63 216.55,1829.71 237.68,1803.1 258.82,1774.48 279.95,1765.82 301.08,1763.74 322.21,1779.01 343.34,1815.96 364.47,1854.34 385.6,1870.53" stroke="#eba392"/>
<polyline points="110.9,1855.41 132.03,1851.24 153.16,1858.48 174.29,1847.36 195.42,1818.62 216.55,1791.49 237.68,1766.26 258.82,1763.44 279.95,1782.82 301.08,1789.43 322.21,1828.43 343.34,1851.04 364.47,1871.6 385.6,1871.6" stroke="#e58f7c"/>
<polyline points="110.9,1864.73 132.03,1863.8 153.16,1854.03 174.29,1846.85 195.42,1850.37 216.55,1827.05 237.68,1824.3 258.82,1801.87 279.95,1796.6 301.08,1793.61 322.21,1806.83 343.34,1829.03 364.47,1838.35 385.6,1864.16" stroke="#d9a596"/>
<polyline points="110.9,1860.72 132.03,1860.18 153.16,1859.62 174.29,1865.62 195.42,1865.81 216.55,1820.11 237.68,1775.33 258.82,1747.7 279.95,1728.19 301.08,1740.84 322.21,1786.86 343.34,1834.86 364.47,1868.83 385.6,1871.6" stroke="#e9ab9c"/>
</g>
<line x1="95.5" y1="1813.9" x2="411.1" y2="1813.9" stroke="#ea7078" stroke-width="2" stroke-dasharray="15 15.7" stroke-dashoffset="0"/>
<line x1="98.5" y1="1871.6" x2="413.1" y2="1871.6" stroke="#4d4d4d" stroke-width="2" stroke-dasharray="15 15.7" stroke-dashoffset="0"/>
<path d="M174.29 1830.85V1852.3M195.42 1794.38V1825.48M216.55 1761.13V1798.67M237.68 1740.76V1775.08M258.82 1727.89V1765.42M279.95 1728.96V1768.64M301.08 1742.9V1783.66M322.21 1772.93V1817.98M343.34 1810.47V1852.3M364.47 1832.99V1863.02M385.6 1845.86V1870.53" stroke="#c8231e" stroke-width="3.4" fill="none" stroke-linecap="round"/>
<polyline points="110.9,1864.68 132.03,1861.79 153.16,1860.06 174.29,1841.6 195.42,1810.44 216.55,1780.43 237.68,1757.93 258.82,1746.97 279.95,1749.28 301.08,1763.12 322.21,1795.44 343.34,1830.63 364.47,1847.37 385.6,1858.91" fill="none" stroke="#c8231e" stroke-width="4.5" stroke-linejoin="round" stroke-linecap="round"/>
<g fill="#c8231e">
<circle cx="110.9" cy="1864.68" r="5.1"/>
<circle cx="132.03" cy="1861.79" r="5.1"/>
<circle cx="153.16" cy="1860.06" r="5.1"/>
<circle cx="174.29" cy="1841.6" r="5.1"/>
<circle cx="195.42" cy="1810.44" r="5.1"/>
<circle cx="216.55" cy="1780.43" r="5.1"/>
<circle cx="237.68" cy="1757.93" r="5.1"/>
<circle cx="258.82" cy="1746.97" r="5.1"/>
<circle cx="279.95" cy="1749.28" r="5.1"/>
<circle cx="301.08" cy="1763.12" r="5.1"/>
<circle cx="322.21" cy="1795.44" r="5.1"/>
<circle cx="343.34" cy="1830.63" r="5.1"/>
<circle cx="364.47" cy="1847.37" r="5.1"/>
<circle cx="385.6" cy="1858.91" r="5.1"/>
</g>
<path d="M96.5 1664.7V1883.8H400.6" stroke="#000" stroke-width="3.6" fill="none"/>
<text x="110.9" y="1911.7" font-size="31.5" text-anchor="middle">0</text>
<text x="132.03" y="1911.7" font-size="31.5" text-anchor="middle">1</text>
<text x="174.29" y="1911.7" font-size="31.5" text-anchor="middle">3</text>
<text x="216.55" y="1911.7" font-size="31.5" text-anchor="middle">5</text>
<text x="258.82" y="1911.7" font-size="31.5" text-anchor="middle">7</text>
<text x="301.08" y="1911.7" font-size="31.5" text-anchor="middle">9</text>
<text x="340.84" y="1911.7" font-size="31.5" text-anchor="middle">11</text>
<text x="382.6" y="1911.7" font-size="31.5" text-anchor="middle">13</text>
<text x="88" y="1884.1" font-size="33" text-anchor="end">5</text>
<text x="88" y="1827.9" font-size="33" text-anchor="end">6</text>
<text x="88" y="1767.5" font-size="33" text-anchor="end">7</text>
<text x="88" y="1710.1" font-size="33" text-anchor="end">8</text>
</g>
<g>
<text x="585.5" y="1650.1" font-size="38.5" text-anchor="middle">x31-SenNP i.n.</text>
<path d="M452.6 1665.7V1883.8M473.77 1665.7V1883.8M494.94 1665.7V1883.8M516.11 1665.7V1883.8M537.28 1665.7V1883.8M558.45 1665.7V1883.8M579.62 1665.7V1883.8M600.78 1665.7V1883.8M621.95 1665.7V1883.8M643.12 1665.7V1883.8M664.29 1665.7V1883.8M685.46 1665.7V1883.8M706.63 1665.7V1883.8M727.8 1665.7V1883.8" stroke="#ebebee" stroke-width="1.4" fill="none"/>
<line x1="439.8" y1="1871.6" x2="742.8" y2="1871.6" stroke="#e3e3e3" stroke-width="3"/>
<line x1="439.8" y1="1813.9" x2="742.8" y2="1813.9" stroke="#ececec" stroke-width="1.2"/>
<line x1="439.8" y1="1756.2" x2="742.8" y2="1756.2" stroke="#ececec" stroke-width="1.3"/>
<line x1="439.8" y1="1698.5" x2="742.8" y2="1698.5" stroke="#ececec" stroke-width="1.3"/>
<g fill="none" stroke-width="1.3" stroke-linejoin="round" stroke-opacity="0.9">
<polyline points="452.6,1860.34 473.77,1864.04 494.94,1856.21 516.11,1823.97 537.28,1767.54 558.45,1742.93 579.62,1721.27 600.78,1728.77 621.95,1773.7 643.12,1826.67 664.29,1871.6 685.46,1871.6 706.63,1869.35 727.8,1871.22" stroke="#eb9cc2"/>
<polyline points="452.6,1857.04 473.77,1852.73 494.94,1855.29 516.11,1847.54 537.28,1822.41 558.45,1772.77 579.62,1739.35 600.78,1726.1 621.95,1748.69 643.12,1791.83 664.29,1855.69 685.46,1871.6 706.63,1871.6 727.8,1870.33" stroke="#e389b4"/>
<polyline points="452.6,1858.37 473.77,1855.09 494.94,1857.93 516.11,1859.42 537.28,1821.64 558.45,1778.21 579.62,1740.06 600.78,1730.25 621.95,1755.21 643.12,1782.6 664.29,1843.3 685.46,1870.26 706.63,1871.6 727.8,1869.8" stroke="#dba3bb"/>
<polyline points="452.6,1862.62 473.77,1859.61 494.94,1854.92 516.11,1860.14 537.28,1799.8 558.45,1743.29 579.62,1739.06 600.78,1760.5 621.95,1803.58 643.12,1841.71 664.29,1871.6 685.46,1871.6 706.63,1871.6 727.8,1871.08" stroke="#efa9c9"/>
<polyline points="452.6,1854.54 473.77,1849.91 494.94,1853.06 516.11,1858.92 537.28,1827.52 558.45,1803.07 579.62,1759.41 600.78,1743.11 621.95,1764.24 643.12,1810.79 664.29,1849.81 685.46,1870.25 706.63,1871.6 727.8,1867.17" stroke="#eb9cc2"/>
<polyline points="452.6,1854.44 473.77,1857.43 494.94,1851.83 516.11,1855.58 537.28,1828.36 558.45,1778.49 579.62,1758.99 600.78,1754.56 621.95,1775.75 643.12,1809.89 664.29,1859.48 685.46,1871.57 706.63,1871.6 727.8,1868.42" stroke="#e389b4"/>
<polyline points="452.6,1863.44 473.77,1860.61 494.94,1859.63 516.11,1867.24 537.28,1832.94 558.45,1787.41 579.62,1765.35 600.78,1761.74 621.95,1801.03 643.12,1832.25 664.29,1871.6 685.46,1870.48 706.63,1870.2 727.8,1871.6" stroke="#dba3bb"/>
<polyline points="452.6,1853.42 473.77,1853.91 494.94,1849.29 516.11,1850.26 537.28,1820.16 558.45,1775.7 579.62,1762.47 600.78,1768.05 621.95,1786.21 643.12,1820.75 664.29,1845.53 685.46,1869.89 706.63,1870.53 727.8,1869.87" stroke="#efa9c9"/>
<polyline points="452.6,1855.87 473.77,1858 494.94,1859.07 516.11,1859.6 537.28,1823.01 558.45,1804.36 579.62,1770.85 600.78,1758.02 621.95,1785.54 643.12,1836.09 664.29,1871.6 685.46,1871.6 706.63,1871.6 727.8,1871.6" stroke="#eb9cc2"/>
<polyline points="452.6,1863.08 473.77,1855.97 494.94,1859.31 516.11,1863.61 537.28,1863.81 558.45,1865.93 579.62,1812.82 600.78,1756.6 621.95,1717.02 643.12,1724.22 664.29,1813.53 685.46,1871.6 706.63,1867.41 727.8,1867.62" stroke="#e389b4"/>
<polyline points="452.6,1852.84 473.77,1856.17 494.94,1857.22 516.11,1861.66 537.28,1863.32 558.45,1862.68 579.62,1813.85 600.78,1750.56 621.95,1725.16 643.12,1742.76 664.29,1782.4 685.46,1844.54 706.63,1868.01 727.8,1869.54" stroke="#dba3bb"/>
<polyline points="452.6,1856.58 473.77,1850.45 494.94,1856.26 516.11,1860.21 537.28,1858.85 558.45,1835.25 579.62,1796.25 600.78,1762.48 621.95,1762.29 643.12,1767.55 664.29,1787.49 685.46,1819.64 706.63,1855.55 727.8,1871.6" stroke="#efa9c9"/>
<polyline points="452.6,1862.01 473.77,1862.35 494.94,1860.5 516.11,1852.08 537.28,1816.74 558.45,1769.31 579.62,1768.98 600.78,1805.93 621.95,1864.96 643.12,1868.18 664.29,1871.17 685.46,1868.28 706.63,1869.54 727.8,1871.49" stroke="#eb9cc2"/>
<polyline points="452.6,1861.29 473.77,1858.15 494.94,1861.26 516.11,1863.13 537.28,1866.42 558.45,1853.6 579.62,1837.38 600.78,1817.67 621.95,1792.04 643.12,1784.07 664.29,1786.67 685.46,1831.63 706.63,1860.73 727.8,1871.6" stroke="#e389b4"/>
<polyline points="452.6,1859.15 473.77,1857.93 494.94,1856.82 516.11,1855.92 537.28,1812.13 558.45,1788.57 579.62,1768.71 600.78,1784.13 621.95,1812.22 643.12,1841.56 664.29,1863.64 685.46,1871.12 706.63,1868.63 727.8,1868.8" stroke="#dba3bb"/>
</g>
<line x1="436.8" y1="1813.9" x2="753.3" y2="1813.9" stroke="#ea7078" stroke-width="2" stroke-dasharray="15 15.7" stroke-dashoffset="0"/>
<line x1="439.8" y1="1871.6" x2="755.3" y2="1871.6" stroke="#4d4d4d" stroke-width="2" stroke-dasharray="15 15.7" stroke-dashoffset="0"/>
<path d="M516.11 1820.74V1850.66M537.28 1786.55V1821.81M558.45 1752.35V1792.96M579.62 1751.28V1787.61M600.78 1744.87V1788.68M621.95 1760.9V1806.85M643.12 1808.98V1845.31M664.29 1844.25V1868.82M685.46 1851.73V1869.89" stroke="#cc1f7c" stroke-width="3.4" fill="none" stroke-linecap="round"/>
<polyline points="452.6,1861.79 473.77,1858.33 494.94,1851.98 516.11,1834.67 537.28,1804.09 558.45,1772.93 579.62,1768.89 600.78,1766.59 621.95,1783.9 643.12,1827.17 664.29,1856.02 685.46,1860.06 706.63,1864.1 727.8,1868.14" fill="none" stroke="#cc1f7c" stroke-width="4.5" stroke-linejoin="round" stroke-linecap="round"/>
<g fill="#cc1f7c">
<circle cx="452.6" cy="1861.79" r="5.1"/>
<circle cx="473.77" cy="1858.33" r="5.1"/>
<circle cx="494.94" cy="1851.98" r="5.1"/>
<circle cx="516.11" cy="1834.67" r="5.1"/>
<circle cx="537.28" cy="1804.09" r="5.1"/>
<circle cx="558.45" cy="1772.93" r="5.1"/>
<circle cx="579.62" cy="1768.89" r="5.1"/>
<circle cx="600.78" cy="1766.59" r="5.1"/>
<circle cx="621.95" cy="1783.9" r="5.1"/>
<circle cx="643.12" cy="1827.17" r="5.1"/>
<circle cx="664.29" cy="1856.02" r="5.1"/>
<circle cx="685.46" cy="1860.06" r="5.1"/>
<circle cx="706.63" cy="1864.1" r="5.1"/>
<circle cx="727.8" cy="1868.14" r="5.1"/>
</g>
<path d="M437.8 1664.7V1883.8H742.8" stroke="#000" stroke-width="3.6" fill="none"/>
<text x="452.6" y="1911.7" font-size="31.5" text-anchor="middle">0</text>
<text x="473.77" y="1911.7" font-size="31.5" text-anchor="middle">1</text>
<text x="516.11" y="1911.7" font-size="31.5" text-anchor="middle">3</text>
<text x="558.45" y="1911.7" font-size="31.5" text-anchor="middle">5</text>
<text x="600.78" y="1911.7" font-size="31.5" text-anchor="middle">7</text>
<text x="643.12" y="1911.7" font-size="31.5" text-anchor="middle">9</text>
<text x="682.96" y="1911.7" font-size="31.5" text-anchor="middle">11</text>
<text x="724.8" y="1911.7" font-size="31.5" text-anchor="middle">13</text>
</g>
<g>
<text x="928.4" y="1650.1" font-size="38.5" text-anchor="middle">PR8-SenNP i.p.</text>
<path d="M794.3 1665.7V1883.8M815.5 1665.7V1883.8M836.7 1665.7V1883.8M857.9 1665.7V1883.8M879.1 1665.7V1883.8M900.3 1665.7V1883.8M921.5 1665.7V1883.8M942.7 1665.7V1883.8M963.9 1665.7V1883.8M985.1 1665.7V1883.8M1006.3 1665.7V1883.8M1027.5 1665.7V1883.8M1048.7 1665.7V1883.8M1069.9 1665.7V1883.8" stroke="#ebebee" stroke-width="1.4" fill="none"/>
<line x1="781.3" y1="1871.6" x2="1084.3" y2="1871.6" stroke="#ececec" stroke-width="1.4"/>
<line x1="781.3" y1="1813.9" x2="1084.3" y2="1813.9" stroke="#ececec" stroke-width="1.2"/>
<line x1="781.3" y1="1756.2" x2="1084.3" y2="1756.2" stroke="#ececec" stroke-width="1.3"/>
<line x1="781.3" y1="1698.5" x2="1084.3" y2="1698.5" stroke="#ececec" stroke-width="1.3"/>
<g fill="none" stroke-width="1.3" stroke-linejoin="round" stroke-opacity="0.9">
<polyline points="794.3,1857.23 815.5,1851.48 836.7,1855.29 857.9,1829.08 879.1,1786.27 900.3,1754.63 921.5,1777.71 942.7,1834.63 963.9,1866.99 985.1,1871.6 1006.3,1871.6 1027.5,1871.6 1048.7,1870.93 1069.9,1869.17" stroke="#a49fcd"/>
<polyline points="794.3,1857 815.5,1848.68 836.7,1853.68 857.9,1814.18 879.1,1765.55 900.3,1764.91 921.5,1795.65 942.7,1855.78 963.9,1870.31 985.1,1871.6 1006.3,1871.6 1027.5,1869.48 1048.7,1868.02 1069.9,1871.6" stroke="#918bc0"/>
<polyline points="794.3,1857.01 815.5,1854.03 836.7,1854.84 857.9,1853.81 879.1,1807.83 900.3,1762.32 921.5,1776.02 942.7,1812.9 963.9,1860.36 985.1,1871.6 1006.3,1871.27 1027.5,1871.6 1048.7,1871.6 1069.9,1869.65" stroke="#aaa6c8"/>
<polyline points="794.3,1861.79 815.5,1861.91 836.7,1860.23 857.9,1861.41 879.1,1866.63 900.3,1844.74 921.5,1792.77 942.7,1766.95 963.9,1769.39 985.1,1819.86 1006.3,1871.29 1027.5,1871.6 1048.7,1870.19 1069.9,1868.97" stroke="#9c98c9"/>
<polyline points="794.3,1855.88 815.5,1848.9 836.7,1854.31 857.9,1860.73 879.1,1860.25 900.3,1855.85 921.5,1819.81 942.7,1778.49 963.9,1767.81 985.1,1787.13 1006.3,1869.05 1027.5,1869.53 1048.7,1871.6 1069.9,1871.6" stroke="#a49fcd"/>
<polyline points="794.3,1859.14 815.5,1856.57 836.7,1855.74 857.9,1860.4 879.1,1865.46 900.3,1850.42 921.5,1805.38 942.7,1774.24 963.9,1797.18 985.1,1847.61 1006.3,1868.72 1027.5,1870.91 1048.7,1869.72 1069.9,1871.6" stroke="#918bc0"/>
<polyline points="794.3,1864.74 815.5,1863.6 836.7,1860.12 857.9,1864.22 879.1,1862.9 900.3,1809.66 921.5,1791.72 942.7,1797.79 963.9,1816.93 985.1,1859.68 1006.3,1868.39 1027.5,1871.6 1048.7,1870.54 1069.9,1870.24" stroke="#aaa6c8"/>
<polyline points="794.3,1865.72 815.5,1859.3 836.7,1858.95 857.9,1867.1 879.1,1829.12 900.3,1798.35 921.5,1794.72 942.7,1812.19 963.9,1865.03 985.1,1871.32 1006.3,1871.6 1027.5,1871.6 1048.7,1869.23 1069.9,1871.6" stroke="#9c98c9"/>
<polyline points="794.3,1860.09 815.5,1855.34 836.7,1854.01 857.9,1859.09 879.1,1864.15 900.3,1850.22 921.5,1826.54 942.7,1794.77 963.9,1812.19 985.1,1851.5 1006.3,1871.6 1027.5,1871.38 1048.7,1871.34 1069.9,1870.46" stroke="#a49fcd"/>
<polyline points="794.3,1855.97 815.5,1848.14 836.7,1851.66 857.9,1859.19 879.1,1844.68 900.3,1804.87 921.5,1814.48 942.7,1849.58 963.9,1867.35 985.1,1870.56 1006.3,1871.6 1027.5,1869.92 1048.7,1870.69 1069.9,1871.54" stroke="#918bc0"/>
<polyline points="794.3,1864.41 815.5,1860.04 836.7,1859.04 857.9,1867.3 879.1,1864.91 900.3,1867.96 921.5,1842.43 942.7,1809.9 963.9,1830.74 985.1,1854.1 1006.3,1870.85 1027.5,1870.36 1048.7,1868.94 1069.9,1867.09" stroke="#aaa6c8"/>
<polyline points="794.3,1863.17 815.5,1860.83 836.7,1853.07 857.9,1862.72 879.1,1866.04 900.3,1850.3 921.5,1819.85 942.7,1838.5 963.9,1860.52 985.1,1871.6 1006.3,1867.4 1027.5,1871.13 1048.7,1867.11 1069.9,1871.6" stroke="#9c98c9"/>
<polyline points="794.3,1860.12 815.5,1853.2 836.7,1859.04 857.9,1861.94 879.1,1861.81 900.3,1865.94 921.5,1863.37 942.7,1870.07 963.9,1852.96 985.1,1822.28 1006.3,1849.49 1027.5,1871.6 1048.7,1871.6 1069.9,1868.73" stroke="#a49fcd"/>
<polyline points="794.3,1865.95 815.5,1860.74 836.7,1855.92 857.9,1865.57 879.1,1845.25 900.3,1818.83 921.5,1832.59 942.7,1870.4 963.9,1871.6 985.1,1870.81 1006.3,1871.6 1027.5,1871.1 1048.7,1871.6 1069.9,1869.29" stroke="#918bc0"/>
<polyline points="794.3,1871.6 815.5,1870.58 836.7,1871.6 857.9,1867.8 879.1,1871.6 900.3,1870.56 921.5,1871.45 942.7,1870.43 963.9,1871.6 985.1,1871.53 1006.3,1871.53 1027.5,1871.6 1048.7,1871.6 1069.9,1871.39" stroke="#aaa6c8"/>
<polyline points="794.3,1868.13 815.5,1871.6 836.7,1870.93 857.9,1870.21 879.1,1868.09 900.3,1871.6 921.5,1871.6 942.7,1870.43 963.9,1871.6 985.1,1870.65 1006.3,1871.11 1027.5,1871.54 1048.7,1870.75 1069.9,1870.84" stroke="#9c98c9"/>
<polyline points="794.3,1862.11 815.5,1868.05 836.7,1865.6 857.9,1866.96 879.1,1866.29 900.3,1869.38 921.5,1869.68 942.7,1869.56 963.9,1870.58 985.1,1870.34 1006.3,1870.4 1027.5,1870.36 1048.7,1870.05 1069.9,1870.61" stroke="#a49fcd"/>
<polyline points="794.3,1860.8 815.5,1864.82 836.7,1860.48 857.9,1865.59 879.1,1863.32 900.3,1864.59 921.5,1867.13 942.7,1869.62 963.9,1870.03 985.1,1869.96 1006.3,1870.4 1027.5,1869.87 1048.7,1869.71 1069.9,1870.03" stroke="#918bc0"/>
<polyline points="794.3,1871.19 815.5,1866.81 836.7,1871.6 857.9,1869.71 879.1,1870.65 900.3,1869.6 921.5,1869.51 942.7,1869.83 963.9,1870.78 985.1,1870.29 1006.3,1870.33 1027.5,1870.79 1048.7,1871.34 1069.9,1870.99" stroke="#aaa6c8"/>
<polyline points="794.3,1863.04 815.5,1868.48 836.7,1866.66 857.9,1871.6 879.1,1871.24 900.3,1871.07 921.5,1871.01 942.7,1871.01 963.9,1871.31 985.1,1871.09 1006.3,1871.11 1027.5,1871.54 1048.7,1871.6 1069.9,1871.2" stroke="#9c98c9"/>
<polyline points="794.3,1869.63 815.5,1871.6 836.7,1869.33 857.9,1871.6 879.1,1869.17 900.3,1870.84 921.5,1869.24 942.7,1871.51 963.9,1871.25 985.1,1870.86 1006.3,1871.44 1027.5,1871.42 1048.7,1871.02 1069.9,1870.56" stroke="#a49fcd"/>
</g>
<line x1="778.3" y1="1813.9" x2="1094.8" y2="1813.9" stroke="#ea7078" stroke-width="2" stroke-dasharray="15 15.7" stroke-dashoffset="0"/>
<line x1="781.3" y1="1871.6" x2="1096.8" y2="1871.6" stroke="#4d4d4d" stroke-width="2" stroke-dasharray="15 15.7" stroke-dashoffset="0"/>
<path d="M857.9 1833.56V1858.14M879.1 1815.4V1853.86M900.3 1788.68V1832.49M921.5 1796.16V1836.77M942.7 1805.78V1848.52M963.9 1822.88V1863.48M985.1 1850.66V1869.89" stroke="#5b4b9f" stroke-width="3.4" fill="none" stroke-linecap="round"/>
<polyline points="794.3,1864.68 815.5,1860.06 836.7,1854.87 857.9,1846.21 879.1,1834.09 900.3,1810.44 921.5,1816.21 942.7,1826.02 963.9,1842.75 985.1,1859.48 1006.3,1869.87 1027.5,1870.45 1048.7,1870.45 1069.9,1870.45" fill="none" stroke="#5b4b9f" stroke-width="4.5" stroke-linejoin="round" stroke-linecap="round"/>
<g fill="#5b4b9f">
<circle cx="794.3" cy="1864.68" r="5.1"/>
<circle cx="815.5" cy="1860.06" r="5.1"/>
<circle cx="836.7" cy="1854.87" r="5.1"/>
<circle cx="857.9" cy="1846.21" r="5.1"/>
<circle cx="879.1" cy="1834.09" r="5.1"/>
<circle cx="900.3" cy="1810.44" r="5.1"/>
<circle cx="921.5" cy="1816.21" r="5.1"/>
<circle cx="942.7" cy="1826.02" r="5.1"/>
<circle cx="963.9" cy="1842.75" r="5.1"/>
<circle cx="985.1" cy="1859.48" r="5.1"/>
<circle cx="1006.3" cy="1869.87" r="5.1"/>
<circle cx="1027.5" cy="1870.45" r="5.1"/>
<circle cx="1048.7" cy="1870.45" r="5.1"/>
<circle cx="1069.9" cy="1870.45" r="5.1"/>
</g>
<path d="M779.3 1664.7V1883.8H1084.3" stroke="#000" stroke-width="3.6" fill="none"/>
<text x="794.3" y="1911.7" font-size="31.5" text-anchor="middle">0</text>
<text x="815.5" y="1911.7" font-size="31.5" text-anchor="middle">1</text>
<text x="857.9" y="1911.7" font-size="31.5" text-anchor="middle">3</text>
<text x="900.3" y="1911.7" font-size="31.5" text-anchor="middle">5</text>
<text x="942.7" y="1911.7" font-size="31.5" text-anchor="middle">7</text>
<text x="985.1" y="1911.7" font-size="31.5" text-anchor="middle">9</text>
<text x="1025" y="1911.7" font-size="31.5" text-anchor="middle">11</text>
<text x="1066.9" y="1911.7" font-size="31.5" text-anchor="middle">13</text>
</g>
<g>
<text x="1266.9" y="1650.1" font-size="38.5" text-anchor="middle">PR8-SenNP i.n.</text>
<path d="M1136.5 1665.7V1883.8M1157.65 1665.7V1883.8M1178.79 1665.7V1883.8M1199.94 1665.7V1883.8M1221.08 1665.7V1883.8M1242.23 1665.7V1883.8M1263.38 1665.7V1883.8M1284.52 1665.7V1883.8M1305.67 1665.7V1883.8M1326.82 1665.7V1883.8M1347.96 1665.7V1883.8M1369.11 1665.7V1883.8M1390.25 1665.7V1883.8M1411.4 1665.7V1883.8" stroke="#ebebee" stroke-width="1.4" fill="none"/>
<line x1="1123.4" y1="1871.6" x2="1426.4" y2="1871.6" stroke="#ececec" stroke-width="1.4"/>
<line x1="1123.4" y1="1813.9" x2="1426.4" y2="1813.9" stroke="#ececec" stroke-width="1.2"/>
<line x1="1123.4" y1="1756.2" x2="1426.4" y2="1756.2" stroke="#ececec" stroke-width="1.3"/>
<line x1="1123.4" y1="1698.5" x2="1426.4" y2="1698.5" stroke="#ececec" stroke-width="1.3"/>
<g fill="none" stroke-width="1.3" stroke-linejoin="round" stroke-opacity="0.9">
<polyline points="1136.5,1853.08 1157.65,1854.78 1178.79,1856.32 1199.94,1859.4 1221.08,1851.78 1242.23,1794.52 1263.38,1739.95 1284.52,1713.14 1305.67,1755.78 1326.82,1850.53 1347.96,1869.77 1369.11,1868.49 1390.25,1868.82 1411.4,1871.6" stroke="#d8e39a"/>
<polyline points="1136.5,1860.99 1157.65,1859.96 1178.79,1858.94 1199.94,1866.3 1221.08,1838.14 1242.23,1783.93 1263.38,1759.25 1284.52,1764.84 1305.67,1803.41 1326.82,1866.2 1347.96,1867.86 1369.11,1867.79 1390.25,1869.51 1411.4,1871.6" stroke="#cddc7f"/>
<polyline points="1136.5,1857.54 1157.65,1855.66 1178.79,1855.07 1199.94,1853.12 1221.08,1816.83 1242.23,1771.08 1263.38,1767.53 1284.52,1795.69 1305.67,1840.11 1326.82,1871.01 1347.96,1870.5 1369.11,1870.43 1390.25,1870.66 1411.4,1871.51" stroke="#dde6b0"/>
<polyline points="1136.5,1853.87 1157.65,1855.18 1178.79,1853.01 1199.94,1859.03 1221.08,1862.92 1242.23,1825.59 1263.38,1784.72 1284.52,1768.81 1305.67,1792.3 1326.82,1837.43 1347.96,1869.73 1369.11,1867.92 1390.25,1871.01 1411.4,1871.6" stroke="#d3df92"/>
<polyline points="1136.5,1859.39 1157.65,1854.82 1178.79,1857.07 1199.94,1859.63 1221.08,1822.18 1242.23,1786.75 1263.38,1786.85 1284.52,1811.47 1305.67,1862.02 1326.82,1871.6 1347.96,1870.57 1369.11,1870.59 1390.25,1871.03 1411.4,1870.31" stroke="#d8e39a"/>
<polyline points="1136.5,1866.75 1157.65,1859.19 1178.79,1863.88 1199.94,1864.38 1221.08,1865.71 1242.23,1821.15 1263.38,1788.77 1284.52,1790.33 1305.67,1830.8 1326.82,1857.12 1347.96,1869.89 1369.11,1871.28 1390.25,1870.1 1411.4,1871.24" stroke="#cddc7f"/>
<polyline points="1136.5,1864.82 1157.65,1859.31 1178.79,1860.86 1199.94,1866.53 1221.08,1846.35 1242.23,1804.44 1263.38,1789.78 1284.52,1796.37 1305.67,1835.49 1326.82,1868.16 1347.96,1871.6 1369.11,1870.58 1390.25,1869.37 1411.4,1870.75" stroke="#dde6b0"/>
<polyline points="1136.5,1856.79 1157.65,1854.7 1178.79,1856.32 1199.94,1859.48 1221.08,1859.34 1242.23,1844.38 1263.38,1810.64 1284.52,1797.58 1305.67,1825.8 1326.82,1870.78 1347.96,1870.77 1369.11,1867.38 1390.25,1867.95 1411.4,1871.6" stroke="#d3df92"/>
<polyline points="1136.5,1853.27 1157.65,1854.92 1178.79,1860.01 1199.94,1848.75 1221.08,1815.32 1242.23,1800.82 1263.38,1820.64 1284.52,1867.18 1305.67,1870.34 1326.82,1870.37 1347.96,1871.6 1369.11,1870.83 1390.25,1869.77 1411.4,1871.6" stroke="#d8e39a"/>
<polyline points="1136.5,1855.08 1157.65,1857.3 1178.79,1855.36 1199.94,1861.78 1221.08,1860.34 1242.23,1849.03 1263.38,1821.07 1284.52,1806.24 1305.67,1804.73 1326.82,1836.6 1347.96,1862.02 1369.11,1871.6 1390.25,1871.35 1411.4,1870.8" stroke="#cddc7f"/>
<polyline points="1136.5,1863.04 1157.65,1859.34 1178.79,1861.81 1199.94,1864.79 1221.08,1862.64 1242.23,1826.4 1263.38,1805.37 1284.52,1823.25 1305.67,1866.65 1326.82,1871.6 1347.96,1870.31 1369.11,1870.98 1390.25,1868.51 1411.4,1868.26" stroke="#dde6b0"/>
<polyline points="1136.5,1860.81 1157.65,1858.48 1178.79,1864.99 1199.94,1865.67 1221.08,1867.8 1242.23,1864.05 1263.38,1853.72 1284.52,1813.78 1305.67,1806.76 1326.82,1812.31 1347.96,1844.52 1369.11,1871.6 1390.25,1871.49 1411.4,1871.19" stroke="#d3df92"/>
<polyline points="1136.5,1857.98 1157.65,1857.74 1178.79,1859.07 1199.94,1860.41 1221.08,1865.36 1242.23,1836.5 1263.38,1823.28 1284.52,1830.51 1305.67,1855.05 1326.82,1871.6 1347.96,1868.31 1369.11,1871.6 1390.25,1870.69 1411.4,1870.26" stroke="#d8e39a"/>
<polyline points="1136.5,1860.53 1157.65,1857.95 1178.79,1852.69 1199.94,1862.04 1221.08,1861.25 1242.23,1863.82 1263.38,1847.62 1284.52,1842.19 1305.67,1839.11 1326.82,1838.96 1347.96,1852.84 1369.11,1867.17 1390.25,1871.6 1411.4,1871.6" stroke="#cddc7f"/>
<polyline points="1136.5,1854.48 1157.65,1859.43 1178.79,1855.29 1199.94,1861 1221.08,1860.86 1242.23,1866.11 1263.38,1867.07 1284.52,1866.93 1305.67,1868.66 1326.82,1869.76 1347.96,1869.13 1369.11,1869.2 1390.25,1869.47 1411.4,1869.65" stroke="#dde6b0"/>
<polyline points="1136.5,1868.65 1157.65,1868.57 1178.79,1864.12 1199.94,1868.31 1221.08,1869.17 1242.23,1869.23 1263.38,1870.73 1284.52,1869.39 1305.67,1870.64 1326.82,1870.44 1347.96,1869.98 1369.11,1871.2 1390.25,1870.57 1411.4,1870.69" stroke="#d3df92"/>
<polyline points="1136.5,1857.04 1157.65,1859.98 1178.79,1863.69 1199.94,1862.35 1221.08,1862.56 1242.23,1863.73 1263.38,1867.21 1284.52,1868.56 1305.67,1869.15 1326.82,1869.64 1347.96,1869.7 1369.11,1869.24 1390.25,1869.03 1411.4,1869.19" stroke="#d8e39a"/>
<polyline points="1136.5,1858.43 1157.65,1856.95 1178.79,1862.16 1199.94,1858.11 1221.08,1863.96 1242.23,1864.3 1263.38,1865.61 1284.52,1868.06 1305.67,1869.21 1326.82,1869.21 1347.96,1869.06 1369.11,1868.98 1390.25,1868.86 1411.4,1869.21" stroke="#cddc7f"/>
<polyline points="1136.5,1867.11 1157.65,1868.74 1178.79,1867 1199.94,1863.71 1221.08,1867.5 1242.23,1869.62 1263.38,1869.13 1284.52,1869.42 1305.67,1870 1326.82,1870.64 1347.96,1870.3 1369.11,1871.07 1390.25,1869.99 1411.4,1870.6" stroke="#dde6b0"/>
<polyline points="1136.5,1871.34 1157.65,1866.36 1178.79,1866.49 1199.94,1871.45 1221.08,1867.55 1242.23,1871.4 1263.38,1871.6 1284.52,1871.6 1305.67,1871.6 1326.82,1870.85 1347.96,1871.06 1369.11,1870.58 1390.25,1871.56 1411.4,1871.6" stroke="#d3df92"/>
</g>
<line x1="1120.4" y1="1813.9" x2="1436.9" y2="1813.9" stroke="#ea7078" stroke-width="2" stroke-dasharray="15 15.7" stroke-dashoffset="0"/>
<line x1="1123.4" y1="1871.6" x2="1438.9" y2="1871.6" stroke="#4d4d4d" stroke-width="2" stroke-dasharray="15 15.7" stroke-dashoffset="0"/>
<path d="M1221.08 1821.38V1852.37M1242.23 1797.87V1841.68M1263.38 1790.39V1834.2M1284.52 1794.67V1842.75M1305.67 1821.38V1856.64M1326.82 1851.3V1870.53" stroke="#a6c620" stroke-width="3.4" fill="none" stroke-linecap="round"/>
<polyline points="1136.5,1862.37 1157.65,1860.64 1178.79,1857.17 1199.94,1852.56 1221.08,1837.56 1242.23,1819.67 1263.38,1812.75 1284.52,1818.52 1305.67,1839.29 1326.82,1860.64 1347.96,1866.41 1369.11,1868.14 1390.25,1869.29 1411.4,1867.56" fill="none" stroke="#a6c620" stroke-width="4.5" stroke-linejoin="round" stroke-linecap="round"/>
<g fill="#a6c620">
<circle cx="1136.5" cy="1862.37" r="5.1"/>
<circle cx="1157.65" cy="1860.64" r="5.1"/>
<circle cx="1178.79" cy="1857.17" r="5.1"/>
<circle cx="1199.94" cy="1852.56" r="5.1"/>
<circle cx="1221.08" cy="1837.56" r="5.1"/>
<circle cx="1242.23" cy="1819.67" r="5.1"/>
<circle cx="1263.38" cy="1812.75" r="5.1"/>
<circle cx="1284.52" cy="1818.52" r="5.1"/>
<circle cx="1305.67" cy="1839.29" r="5.1"/>
<circle cx="1326.82" cy="1860.64" r="5.1"/>
<circle cx="1347.96" cy="1866.41" r="5.1"/>
<circle cx="1369.11" cy="1868.14" r="5.1"/>
<circle cx="1390.25" cy="1869.29" r="5.1"/>
<circle cx="1411.4" cy="1867.56" r="5.1"/>
</g>
<path d="M1121.4 1664.7V1883.8H1426.4" stroke="#000" stroke-width="3.6" fill="none"/>
<text x="1136.5" y="1911.7" font-size="31.5" text-anchor="middle">0</text>
<text x="1157.65" y="1911.7" font-size="31.5" text-anchor="middle">1</text>
<text x="1199.94" y="1911.7" font-size="31.5" text-anchor="middle">3</text>
<text x="1242.23" y="1911.7" font-size="31.5" text-anchor="middle">5</text>
<text x="1284.52" y="1911.7" font-size="31.5" text-anchor="middle">7</text>
<text x="1326.82" y="1911.7" font-size="31.5" text-anchor="middle">9</text>
<text x="1366.61" y="1911.7" font-size="31.5" text-anchor="middle">11</text>
<text x="1408.4" y="1911.7" font-size="31.5" text-anchor="middle">13</text>
</g>
<g>
<text x="1609.6" y="1650.1" font-size="38.5" text-anchor="middle">LAIV-SenNP i.n.</text>
<path d="M1478.2 1665.7V1883.8M1499.35 1665.7V1883.8M1520.49 1665.7V1883.8M1541.64 1665.7V1883.8M1562.78 1665.7V1883.8M1583.93 1665.7V1883.8M1605.08 1665.7V1883.8M1626.22 1665.7V1883.8M1647.37 1665.7V1883.8M1668.52 1665.7V1883.8M1689.66 1665.7V1883.8M1710.81 1665.7V1883.8M1731.95 1665.7V1883.8M1753.1 1665.7V1883.8" stroke="#ebebee" stroke-width="1.4" fill="none"/>
<line x1="1465.2" y1="1871.6" x2="1768.1" y2="1871.6" stroke="#e3e3e3" stroke-width="3"/>
<line x1="1465.2" y1="1813.9" x2="1768.1" y2="1813.9" stroke="#ececec" stroke-width="1.2"/>
<line x1="1465.2" y1="1756.2" x2="1768.1" y2="1756.2" stroke="#ececec" stroke-width="1.3"/>
<line x1="1465.2" y1="1698.5" x2="1768.1" y2="1698.5" stroke="#ececec" stroke-width="1.3"/>
<g fill="none" stroke-width="1.3" stroke-linejoin="round" stroke-opacity="0.9">
<polyline points="1478.2,1856.7 1499.35,1846.57 1520.49,1842.53 1541.64,1824.32 1562.78,1788.12 1583.93,1761.2 1605.08,1761.77 1626.22,1773.34 1647.37,1802.34 1668.52,1847.13 1689.66,1868.17 1710.81,1870.52 1731.95,1869.59 1753.1,1871.6" stroke="#8cc9a5"/>
<polyline points="1478.2,1859.96 1499.35,1857.37 1520.49,1860.31 1541.64,1853.92 1562.78,1816.23 1583.93,1788.11 1605.08,1766 1626.22,1749.53 1647.37,1767.26 1668.52,1807.56 1689.66,1862.41 1710.81,1868.11 1731.95,1870.2 1753.1,1871.6" stroke="#76bd93"/>
<polyline points="1478.2,1853.36 1499.35,1853.4 1520.49,1853.33 1541.64,1858.7 1562.78,1849.54 1583.93,1814.61 1605.08,1784.99 1626.22,1757.89 1647.37,1766.41 1668.52,1796.51 1689.66,1852.4 1710.81,1870.63 1731.95,1871.6 1753.1,1870.62" stroke="#9cc6ad"/>
<polyline points="1478.2,1860.22 1499.35,1853.53 1520.49,1858.16 1541.64,1861.48 1562.78,1852.91 1583.93,1813.79 1605.08,1774.81 1626.22,1762.21 1647.37,1782.31 1668.52,1813.03 1689.66,1866.37 1710.81,1871.6 1731.95,1871.6 1753.1,1871.6" stroke="#86c5a0"/>
<polyline points="1478.2,1866.22 1499.35,1862.89 1520.49,1857.46 1541.64,1865.93 1562.78,1852.35 1583.93,1802.04 1605.08,1776.6 1626.22,1775.35 1647.37,1788.29 1668.52,1820.28 1689.66,1864.37 1710.81,1870.84 1731.95,1871.6 1753.1,1871.38" stroke="#8cc9a5"/>
<polyline points="1478.2,1864.63 1499.35,1863.25 1520.49,1855.39 1541.64,1866.24 1562.78,1867.26 1583.93,1828.89 1605.08,1784.42 1626.22,1778.83 1647.37,1790.88 1668.52,1816.49 1689.66,1870.88 1710.81,1870.9 1731.95,1870.78 1753.1,1870.31" stroke="#76bd93"/>
<polyline points="1478.2,1862.1 1499.35,1855.22 1520.49,1855.24 1541.64,1866.5 1562.78,1866.2 1583.93,1831.58 1605.08,1791.39 1626.22,1776.27 1647.37,1792.48 1668.52,1812.9 1689.66,1853.99 1710.81,1868.66 1731.95,1871.6 1753.1,1871.6" stroke="#9cc6ad"/>
<polyline points="1478.2,1861.75 1499.35,1861.28 1520.49,1855.2 1541.64,1862.96 1562.78,1857.27 1583.93,1828.56 1605.08,1790.34 1626.22,1780.84 1647.37,1791.84 1668.52,1827.98 1689.66,1865.72 1710.81,1871.48 1731.95,1870.52 1753.1,1871.6" stroke="#86c5a0"/>
<polyline points="1478.2,1861.25 1499.35,1857.96 1520.49,1859.64 1541.64,1863.62 1562.78,1862.75 1583.93,1850.09 1605.08,1817.17 1626.22,1782.41 1647.37,1785.96 1668.52,1819.92 1689.66,1861.32 1710.81,1871.21 1731.95,1871.6 1753.1,1870.48" stroke="#8cc9a5"/>
<polyline points="1478.2,1855.68 1499.35,1855.09 1520.49,1849.33 1541.64,1860.54 1562.78,1843.29 1583.93,1808.41 1605.08,1791.46 1626.22,1797.34 1647.37,1806.24 1668.52,1849.53 1689.66,1871.6 1710.81,1871.6 1731.95,1871.6 1753.1,1871.49" stroke="#76bd93"/>
<polyline points="1478.2,1856.94 1499.35,1849.78 1520.49,1852.66 1541.64,1861.14 1562.78,1865.08 1583.93,1846.74 1605.08,1833.02 1626.22,1818.26 1647.37,1796.29 1668.52,1780.69 1689.66,1786.83 1710.81,1821.1 1731.95,1871.6 1753.1,1871.6" stroke="#9cc6ad"/>
<polyline points="1478.2,1855.52 1499.35,1846.65 1520.49,1854.5 1541.64,1864.09 1562.78,1854.85 1583.93,1812.52 1605.08,1794.52 1626.22,1790.09 1647.37,1817.83 1668.52,1845.02 1689.66,1870.19 1710.81,1867.16 1731.95,1870.7 1753.1,1871.6" stroke="#86c5a0"/>
<polyline points="1478.2,1855.75 1499.35,1846.97 1520.49,1851.68 1541.64,1844.79 1562.78,1813.1 1583.93,1798.78 1605.08,1809.81 1626.22,1825.37 1647.37,1855.19 1668.52,1871.6 1689.66,1871.6 1710.81,1871.6 1731.95,1870.79 1753.1,1871.15" stroke="#8cc9a5"/>
<polyline points="1478.2,1863.17 1499.35,1856.99 1520.49,1852.74 1541.64,1863.4 1562.78,1865.67 1583.93,1851.79 1605.08,1827.04 1626.22,1788.06 1647.37,1786.46 1668.52,1822.06 1689.66,1864.65 1710.81,1871.6 1731.95,1871.6 1753.1,1871.6" stroke="#76bd93"/>
<polyline points="1478.2,1856.17 1499.35,1851.07 1520.49,1854.34 1541.64,1859.96 1562.78,1860.94 1583.93,1840.51 1605.08,1815.66 1626.22,1799.9 1647.37,1802.19 1668.52,1834.58 1689.66,1869.7 1710.81,1871.47 1731.95,1870.41 1753.1,1871.6" stroke="#9cc6ad"/>
<polyline points="1478.2,1861.25 1499.35,1858.53 1520.49,1860.18 1541.64,1861.68 1562.78,1850.12 1583.93,1815.68 1605.08,1813.49 1626.22,1815 1647.37,1837.32 1668.52,1858.18 1689.66,1871.6 1710.81,1871.6 1731.95,1871.6 1753.1,1868.25" stroke="#86c5a0"/>
</g>
<line x1="1462.2" y1="1813.9" x2="1778.6" y2="1813.9" stroke="#ea7078" stroke-width="2" stroke-dasharray="15 15.7" stroke-dashoffset="0"/>
<line x1="1465.2" y1="1871.6" x2="1780.6" y2="1871.6" stroke="#4d4d4d" stroke-width="2" stroke-dasharray="15 15.7" stroke-dashoffset="0"/>
<path d="M1541.64 1835.27V1854.5M1562.78 1816.04V1842.75M1583.93 1791.46V1824.59M1605.08 1783.98V1810.69M1626.22 1776.5V1806.42M1647.37 1788.26V1823.52M1668.52 1835.27V1864.12M1689.66 1853.44V1873.74" stroke="#0f9b4b" stroke-width="3.4" fill="none" stroke-linecap="round"/>
<polyline points="1478.2,1858.91 1499.35,1857.17 1520.49,1854.87 1541.64,1845.06 1562.78,1828.9 1583.93,1808.13 1605.08,1797.74 1626.22,1791.4 1647.37,1805.82 1668.52,1849.1 1689.66,1864.1 1710.81,1868.14 1731.95,1869.29 1753.1,1869.29" fill="none" stroke="#0f9b4b" stroke-width="4.5" stroke-linejoin="round" stroke-linecap="round"/>
<g fill="#0f9b4b">
<circle cx="1478.2" cy="1858.91" r="5.1"/>
<circle cx="1499.35" cy="1857.17" r="5.1"/>
<circle cx="1520.49" cy="1854.87" r="5.1"/>
<circle cx="1541.64" cy="1845.06" r="5.1"/>
<circle cx="1562.78" cy="1828.9" r="5.1"/>
<circle cx="1583.93" cy="1808.13" r="5.1"/>
<circle cx="1605.08" cy="1797.74" r="5.1"/>
<circle cx="1626.22" cy="1791.4" r="5.1"/>
<circle cx="1647.37" cy="1805.82" r="5.1"/>
<circle cx="1668.52" cy="1849.1" r="5.1"/>
<circle cx="1689.66" cy="1864.1" r="5.1"/>
<circle cx="1710.81" cy="1868.14" r="5.1"/>
<circle cx="1731.95" cy="1869.29" r="5.1"/>
<circle cx="1753.1" cy="1869.29" r="5.1"/>
</g>
<path d="M1463.2 1664.7V1883.8H1768.1" stroke="#000" stroke-width="3.6" fill="none"/>
<text x="1478.2" y="1911.7" font-size="31.5" text-anchor="middle">0</text>
<text x="1499.35" y="1911.7" font-size="31.5" text-anchor="middle">1</text>
<text x="1541.64" y="1911.7" font-size="31.5" text-anchor="middle">3</text>
<text x="1583.93" y="1911.7" font-size="31.5" text-anchor="middle">5</text>
<text x="1626.22" y="1911.7" font-size="31.5" text-anchor="middle">7</text>
<text x="1668.52" y="1911.7" font-size="31.5" text-anchor="middle">9</text>
<text x="1708.31" y="1911.7" font-size="31.5" text-anchor="middle">11</text>
<text x="1750.1" y="1911.7" font-size="31.5" text-anchor="middle">13</text>
</g>
<g>
<text x="1960" y="1650.1" font-size="38.5" text-anchor="middle">Ad-SenNP i.n.</text>
<path d="M1820 1665.7V1883.8M1841.15 1665.7V1883.8M1862.31 1665.7V1883.8M1883.46 1665.7V1883.8M1904.62 1665.7V1883.8M1925.77 1665.7V1883.8M1946.92 1665.7V1883.8M1968.08 1665.7V1883.8M1989.23 1665.7V1883.8M2010.38 1665.7V1883.8M2031.54 1665.7V1883.8M2052.69 1665.7V1883.8M2073.85 1665.7V1883.8M2095 1665.7V1883.8" stroke="#ebebee" stroke-width="1.4" fill="none"/>
<line x1="1807.2" y1="1871.6" x2="2110" y2="1871.6" stroke="#ececec" stroke-width="1.4"/>
<line x1="1807.2" y1="1813.9" x2="2110" y2="1813.9" stroke="#ececec" stroke-width="1.2"/>
<line x1="1807.2" y1="1756.2" x2="2110" y2="1756.2" stroke="#ececec" stroke-width="1.3"/>
<line x1="1807.2" y1="1698.5" x2="2110" y2="1698.5" stroke="#ececec" stroke-width="1.3"/>
<g fill="none" stroke-width="1.3" stroke-linejoin="round" stroke-opacity="0.9">
<polyline points="1820,1854.29 1841.15,1845.63 1862.31,1838.13 1883.46,1843.9 1904.62,1841.6 1925.77,1854.29 1946.92,1854.29 1968.08,1854.29 1989.23,1857.17 2010.38,1860.06 2031.54,1866.98 2052.69,1868.71 2073.85,1868.71 2095,1868.71" stroke="#bcbca2"/>
<polyline points="1820,1857.17 1841.15,1854.29 1862.31,1845.63 1883.46,1842.75 1904.62,1848.52 1925.77,1848.52 1946.92,1836.98 1968.08,1819.67 1989.23,1799.47 2010.38,1831.21 2031.54,1866.98 2052.69,1868.71 2073.85,1868.71 2095,1868.71" stroke="#adad90"/>
<polyline points="1820,1860.06 1841.15,1857.17 1862.31,1848.52 1883.46,1845.63 1904.62,1851.4 1925.77,1857.17 1946.92,1848.52 1968.08,1824.29 1989.23,1826.59 2010.38,1839.87 2031.54,1865.83 2052.69,1868.71 2073.85,1868.71 2095,1868.71" stroke="#c3c3b0"/>
<polyline points="1820,1854.29 1841.15,1860.06 1862.31,1851.4 1883.46,1851.4 1904.62,1854.29 1925.77,1860.06 1946.92,1857.17 1968.08,1828.32 1989.23,1830.06 2010.38,1854.29 2031.54,1868.14 2052.69,1868.71 2073.85,1868.71 2095,1868.71" stroke="#b4b498"/>
<polyline points="1820,1860.06 1841.15,1868.71 1862.31,1860.06 1883.46,1865.83 1904.62,1870.45 1925.77,1868.71 1946.92,1865.83 1968.08,1865.83 1989.23,1865.83 2010.38,1865.83 2031.54,1868.71 2052.69,1868.71 2073.85,1868.71 2095,1868.71" stroke="#bcbca2"/>
<polyline points="1820,1856.52 1841.15,1859.07 1862.31,1859.45 1883.46,1862.12 1904.62,1863.7 1925.77,1866.41 1946.92,1867.77 1968.08,1868.16 1989.23,1869.93 2010.38,1869.22 2031.54,1869.39 2052.69,1869.6 2073.85,1869.11 2095,1869.57" stroke="#adad90"/>
<polyline points="1820,1857.87 1841.15,1861.7 1862.31,1862.71 1883.46,1866.75 1904.62,1864.74 1925.77,1867.29 1946.92,1868.71 1968.08,1868.85 1989.23,1870.03 2010.38,1870.21 2031.54,1870 2052.69,1870.21 2073.85,1870.02 2095,1869.61" stroke="#c3c3b0"/>
<polyline points="1820,1865.24 1841.15,1867.53 1862.31,1868.14 1883.46,1871.25 1904.62,1869.13 1925.77,1871.6 1946.92,1870.31 1968.08,1871.1 1989.23,1870.59 2010.38,1871.6 2031.54,1871.11 2052.69,1871.01 2073.85,1870.54 2095,1871.16" stroke="#b4b498"/>
<polyline points="1820,1860.31 1841.15,1859.64 1862.31,1861.62 1883.46,1864.96 1904.62,1864.49 1925.77,1866.69 1946.92,1867.3 1968.08,1869.15 1989.23,1870.35 2010.38,1870.31 2031.54,1869.39 2052.69,1870.5 2073.85,1869.82 2095,1869.6" stroke="#bcbca2"/>
<polyline points="1820,1858.29 1841.15,1861.84 1862.31,1860.33 1883.46,1862.44 1904.62,1867.37 1925.77,1865.95 1946.92,1868.46 1968.08,1868.83 1989.23,1869.56 2010.38,1869.75 2031.54,1869.57 2052.69,1870.07 2073.85,1870.12 2095,1869.51" stroke="#adad90"/>
<polyline points="1820,1853.68 1841.15,1852.88 1862.31,1857.57 1883.46,1858.2 1904.62,1863.15 1925.77,1864.48 1946.92,1865.87 1968.08,1866.89 1989.23,1868.42 2010.38,1868.96 2031.54,1868.8 2052.69,1868.72 2073.85,1868.97 2095,1868.73" stroke="#c3c3b0"/>
<polyline points="1820,1859.6 1841.15,1858.84 1862.31,1860.69 1883.46,1865.67 1904.62,1865.18 1925.77,1866.27 1946.92,1867.18 1968.08,1869.36 1989.23,1869.74 2010.38,1869.29 2031.54,1869.51 2052.69,1870.39 2073.85,1870.47 2095,1870.29" stroke="#b4b498"/>
<polyline points="1820,1871.24 1841.15,1866.84 1862.31,1865.74 1883.46,1870.52 1904.62,1871.36 1925.77,1868.49 1946.92,1869.88 1968.08,1870.63 1989.23,1871.29 2010.38,1871.29 2031.54,1870.71 2052.69,1870.62 2073.85,1871.47 2095,1871.43" stroke="#bcbca2"/>
<polyline points="1820,1868.01 1841.15,1862.83 1862.31,1866.3 1883.46,1866.27 1904.62,1865.71 1925.77,1868.74 1946.92,1868.64 1968.08,1870.71 1989.23,1870.48 2010.38,1870.94 2031.54,1869.96 2052.69,1870.27 2073.85,1870.84 2095,1870.39" stroke="#adad90"/>
<polyline points="1820,1868.59 1841.15,1866.42 1862.31,1870.59 1883.46,1869.2 1904.62,1868.61 1925.77,1871.07 1946.92,1869 1968.08,1871.08 1989.23,1870.22 2010.38,1870.93 2031.54,1870.65 2052.69,1871.14 2073.85,1871.34 2095,1871.1" stroke="#c3c3b0"/>
<polyline points="1820,1863.2 1841.15,1866.3 1862.31,1865.02 1883.46,1868.83 1904.62,1868.06 1925.77,1868.44 1946.92,1867.97 1968.08,1869.48 1989.23,1870.55 2010.38,1870.27 2031.54,1870.16 2052.69,1870.89 2073.85,1870.26 2095,1870.66" stroke="#b4b498"/>
<polyline points="1820,1862.03 1841.15,1860.44 1862.31,1863.54 1883.46,1863.15 1904.62,1864.33 1925.77,1866.75 1946.92,1867.76 1968.08,1868.45 1989.23,1869.27 2010.38,1869.5 2031.54,1869.72 2052.69,1869.23 2073.85,1870.1 2095,1869.76" stroke="#bcbca2"/>
</g>
<line x1="1804.2" y1="1813.9" x2="2120.5" y2="1813.9" stroke="#ea7078" stroke-width="2" stroke-dasharray="15 15.7" stroke-dashoffset="0"/>
<line x1="1807.2" y1="1871.6" x2="2122.5" y2="1871.6" stroke="#4d4d4d" stroke-width="2" stroke-dasharray="15 15.7" stroke-dashoffset="0"/>
<path d="M1862.31 1845.96V1857.71M1968.08 1845.96V1866.26M1989.23 1843.82V1867.33" stroke="#808040" stroke-width="3.4" fill="none" stroke-linecap="round"/>
<polyline points="1820,1857.75 1841.15,1858.91 1862.31,1852.56 1883.46,1855.44 1904.62,1860.64 1925.77,1862.37 1946.92,1858.91 1968.08,1856.6 1989.23,1855.44 2010.38,1862.37 2031.54,1868.14 2052.69,1869.29 2073.85,1869.29 2095,1869.29" fill="none" stroke="#808040" stroke-width="4.5" stroke-linejoin="round" stroke-linecap="round"/>
<g fill="#808040">
<circle cx="1820" cy="1857.75" r="5.1"/>
<circle cx="1841.15" cy="1858.91" r="5.1"/>
<circle cx="1862.31" cy="1852.56" r="5.1"/>
<circle cx="1883.46" cy="1855.44" r="5.1"/>
<circle cx="1904.62" cy="1860.64" r="5.1"/>
<circle cx="1925.77" cy="1862.37" r="5.1"/>
<circle cx="1946.92" cy="1858.91" r="5.1"/>
<circle cx="1968.08" cy="1856.6" r="5.1"/>
<circle cx="1989.23" cy="1855.44" r="5.1"/>
<circle cx="2010.38" cy="1862.37" r="5.1"/>
<circle cx="2031.54" cy="1868.14" r="5.1"/>
<circle cx="2052.69" cy="1869.29" r="5.1"/>
<circle cx="2073.85" cy="1869.29" r="5.1"/>
<circle cx="2095" cy="1869.29" r="5.1"/>
</g>
<path d="M1805.2 1664.7V1883.8H2110" stroke="#000" stroke-width="3.6" fill="none"/>
<text x="1820" y="1911.7" font-size="31.5" text-anchor="middle">0</text>
<text x="1841.15" y="1911.7" font-size="31.5" text-anchor="middle">1</text>
<text x="1883.46" y="1911.7" font-size="31.5" text-anchor="middle">3</text>
<text x="1925.77" y="1911.7" font-size="31.5" text-anchor="middle">5</text>
<text x="1968.08" y="1911.7" font-size="31.5" text-anchor="middle">7</text>
<text x="2010.38" y="1911.7" font-size="31.5" text-anchor="middle">9</text>
<text x="2050.19" y="1911.7" font-size="31.5" text-anchor="middle">11</text>
<text x="2092" y="1911.7" font-size="31.5" text-anchor="middle">13</text>
</g>
</g>
</svg></body></html>
